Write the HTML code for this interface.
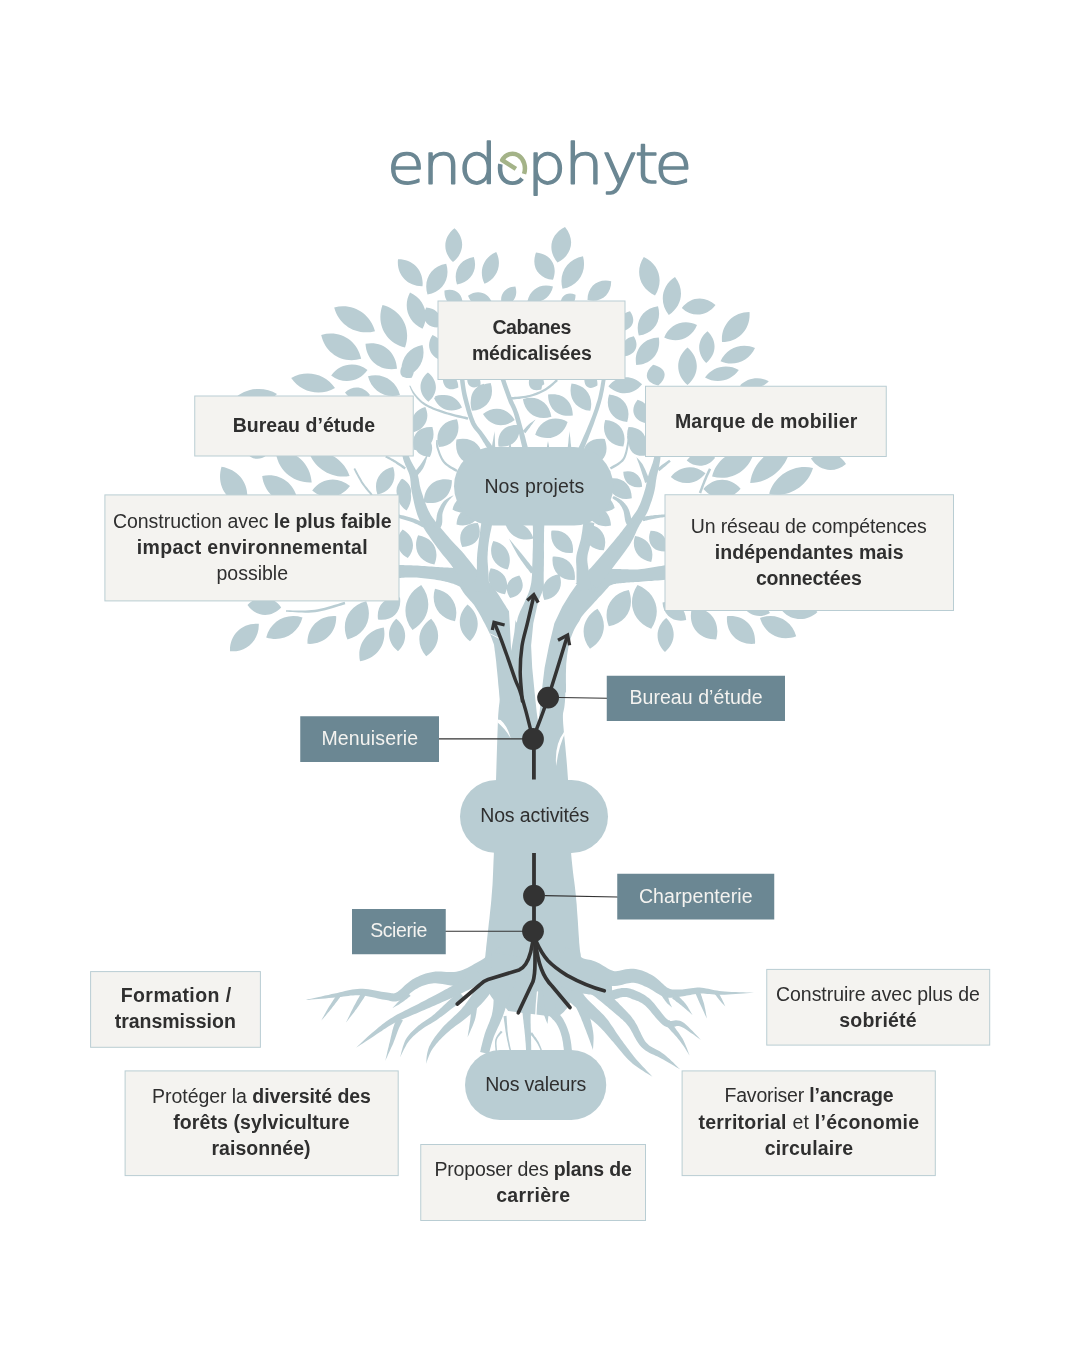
<!DOCTYPE html>
<html lang="fr"><head><meta charset="utf-8"><title>endophyte</title>
<style>html,body{margin:0;padding:0;background:#fff}svg{display:block;will-change:transform}text{font-family:"Liberation Sans",sans-serif;font-size:19.50px}</style></head><body>
<svg width="1080" height="1350" viewBox="0 0 1080 1350">
<rect width="1080" height="1350" fill="#ffffff"/>
<text transform="scale(1.105,1)" x="350.32 382.06 414.67 446.79 477.26 510.93 544.61 574.29 592.31" y="182.8" style="font-family:'DejaVu Sans Light','DejaVu Sans',sans-serif;font-weight:200;font-size:55.5px" fill="#6b8793" stroke="#6b8793" stroke-width="1.5" stroke-linejoin="round">endophyte</text>
<path d="M500.60,164.09 A12.43,14.65 0 1 1 521.73,178.17" fill="none" stroke="#fff" stroke-width="7.5"/>
<path d="M515.89,168.97 L502.18,160.18 A12.43,14.65 0 0 1 524.01,173.86" fill="none" stroke="#a4b388" stroke-width="4.5" stroke-linejoin="round"/>
<g fill="#b9cdd3">
<path d="M555.8,1017.0 L556.5,1016.8 L557.4,1016.5 L558.5,1016.0 L559.8,1015.2 L561.1,1014.2 L562.6,1013.1 L564.0,1011.7 L565.4,1010.1 L566.8,1008.4 L568.0,1006.5 L569.1,1004.7 L570.2,1002.9 L571.4,1001.2 L572.5,999.5 L573.5,997.9 L574.6,996.2 L575.5,994.6 L576.4,993.1 L577.3,991.5 L578.0,989.9 L578.6,988.2 L579.2,986.2 L579.7,984.1 L580.1,982.0 L580.4,979.8 L580.7,977.7 L580.9,975.6 L581.2,973.6 L581.3,971.7 L581.5,970.0 L581.6,968.5 L581.7,967.1 L581.7,965.8 L581.6,964.7 L581.6,963.6 L581.5,962.5 L581.3,961.4 L581.2,960.3 L581.1,959.2 L581.0,957.9 L580.9,956.6 L580.8,955.4 L580.7,954.5 L580.6,953.7 L580.4,953.1 L580.3,952.4 L580.1,951.4 L579.9,950.0 L579.7,948.1 L579.5,945.7 L579.2,942.7 L579.0,939.1 L578.7,934.9 L578.4,930.4 L578.1,925.5 L577.8,920.4 L577.4,915.2 L577.0,910.0 L576.7,904.8 L576.2,899.8 L575.8,895.0 L575.3,890.4 L574.8,886.1 L574.3,881.9 L573.7,877.8 L573.2,873.7 L572.7,869.4 L572.2,864.8 L571.7,859.9 L571.2,854.4 L570.9,848.3 L570.5,841.4 L570.2,834.0 L569.9,826.3 L569.6,818.3 L569.3,810.2 L569.0,802.1 L568.7,794.3 L568.4,786.6 L568.0,779.4 L567.5,772.4 L567.0,765.5 L566.4,758.6 L565.8,751.9 L565.2,745.5 L564.6,739.4 L564.0,733.7 L563.6,728.5 L563.2,724.0 L563.0,720.2 L562.9,717.4 L562.9,715.4 L563.0,714.0 L563.1,713.2 L563.2,712.5 L563.4,711.7 L563.7,710.3 L564.2,708.0 L564.6,705.1 L564.9,702.1 L565.1,699.4 L565.2,697.0 L565.3,694.8 L565.3,692.7 L565.4,690.8 L565.4,689.0 L565.4,687.5 L565.4,686.2 L565.5,685.3 L565.5,684.7 L499.5,685.3 L499.5,686.4 L499.6,687.7 L499.7,689.0 L499.8,690.4 L499.9,691.7 L500.0,693.1 L500.0,694.5 L500.1,695.8 L500.1,697.1 L500.1,697.9 L500.1,698.1 L500.1,698.1 L500.1,698.5 L499.9,699.7 L499.6,701.8 L499.2,704.6 L498.8,707.8 L498.5,711.4 L498.2,715.3 L498.0,719.8 L497.8,724.6 L497.6,729.9 L497.4,735.5 L497.2,741.4 L497.0,747.7 L496.8,754.1 L496.6,760.7 L496.4,767.3 L496.2,774.0 L496.0,780.6 L495.8,787.4 L495.6,794.8 L495.4,802.5 L495.1,810.5 L494.9,818.6 L494.7,826.6 L494.5,834.4 L494.2,841.9 L494.0,849.0 L493.8,855.6 L493.5,861.6 L493.3,867.0 L493.1,872.0 L492.9,876.6 L492.7,880.9 L492.5,884.9 L492.2,888.8 L491.9,892.5 L491.6,896.3 L491.3,900.2 L490.9,904.5 L490.4,909.1 L489.9,913.8 L489.4,918.7 L488.8,923.5 L488.3,928.2 L487.8,932.8 L487.3,937.0 L486.9,940.9 L486.5,944.3 L486.2,947.1 L486.0,949.3 L485.8,951.2 L485.6,952.7 L485.5,954.0 L485.4,955.1 L485.3,955.9 L485.2,956.5 L485.1,957.2 L485.0,958.1 L484.9,959.2 L484.8,960.3 L484.7,961.4 L484.5,962.5 L484.4,963.6 L484.4,964.7 L484.3,965.8 L484.3,967.1 L484.4,968.5 L484.5,970.0 L484.7,971.7 L484.8,973.6 L485.1,975.6 L485.3,977.7 L485.6,979.8 L485.9,982.0 L486.3,984.1 L486.8,986.2 L487.4,988.2 L488.0,990.1 L488.7,991.9 L489.6,993.8 L490.5,995.5 L491.5,997.1 L492.6,998.5 L493.7,999.8 L494.8,1001.0 L495.9,1002.0 L497.0,1002.9 L498.0,1003.5 L499.1,1004.0 L500.3,1004.5 L501.5,1005.1 L502.7,1005.9 L503.9,1006.6 L505.0,1007.5 L506.0,1008.3 L506.9,1009.2 L507.6,1010.2 L508.2,1011.0Z"/>
<path d="M528.0,701.3 L527.9,698.1 L527.9,693.8 L527.9,688.7 L527.9,682.9 L527.9,676.8 L527.8,670.6 L527.7,664.5 L527.5,658.7 L527.2,653.6 L526.9,649.2 L526.5,645.7 L526.0,642.6 L525.3,639.9 L524.6,637.4 L523.7,635.1 L522.8,633.1 L521.9,631.5 L521.1,630.3 L520.4,629.2 L519.7,627.9 L518.7,625.9 L517.5,623.8 L516.2,621.8 L515.0,619.8 L513.7,617.9 L512.4,616.1 L511.2,614.3 L509.9,612.6 L508.8,610.9 L507.7,609.2 L506.5,607.4 L505.4,605.6 L504.2,603.8 L503.1,601.9 L501.9,599.9 L500.6,598.0 L499.4,596.1 L498.2,594.2 L496.9,592.3 L495.6,590.5 L494.2,588.6 L492.9,586.9 L491.6,585.3 L490.3,583.7 L489.1,582.3 L487.9,581.0 L486.8,579.7 L485.8,578.6 L484.9,577.6 L484.0,576.7 L483.0,575.7 L482.0,574.7 L480.9,573.7 L479.8,572.7 L478.7,571.7 L477.7,570.8 L476.8,570.0 L475.9,569.3 L475.2,568.7 L474.6,568.2 L457.4,581.8 L457.7,582.5 L458.2,583.3 L458.7,584.3 L459.3,585.4 L459.9,586.6 L460.6,587.9 L461.4,589.3 L462.2,590.6 L463.1,592.0 L464.0,593.3 L465.1,594.7 L466.2,596.0 L467.3,597.3 L468.4,598.5 L469.5,599.7 L470.6,600.9 L471.6,602.0 L472.6,603.2 L473.5,604.3 L474.4,605.5 L475.3,606.9 L476.3,608.4 L477.2,610.0 L478.3,611.7 L479.3,613.4 L480.3,615.3 L481.3,617.1 L482.3,619.0 L483.3,620.9 L484.3,622.8 L485.4,624.7 L486.3,626.7 L487.3,628.6 L488.2,630.4 L489.1,632.2 L489.9,633.9 L490.6,635.6 L491.2,637.1 L491.8,638.6 L492.3,640.1 L493.0,641.9 L493.6,643.6 L494.0,644.7 L494.1,645.4 L494.2,645.8 L494.2,646.2 L494.3,647.0 L494.5,648.2 L494.7,650.2 L495.1,652.8 L495.5,656.3 L496.1,661.0 L496.6,666.4 L497.2,672.2 L497.8,678.3 L498.3,684.4 L498.9,690.1 L499.3,695.2 L499.7,699.5 L500.0,702.7Z"/>
<path d="M472.8,569.9 L471.9,569.8 L470.8,569.7 L469.5,569.5 L467.9,569.4 L466.1,569.2 L464.3,569.0 L462.4,568.7 L460.4,568.5 L458.5,568.3 L456.6,568.2 L454.8,568.0 L453.0,567.9 L451.3,567.8 L449.5,567.7 L447.7,567.6 L445.9,567.5 L444.0,567.4 L442.2,567.3 L440.2,567.2 L438.2,567.0 L436.1,566.9 L433.9,566.8 L431.6,566.6 L429.2,566.4 L426.8,566.2 L424.4,566.1 L422.0,565.9 L419.7,565.8 L417.4,565.6 L415.3,565.5 L413.2,565.4 L411.1,565.3 L409.0,565.3 L407.0,565.2 L405.0,565.2 L403.2,565.1 L401.5,565.1 L400.1,565.1 L398.9,565.0 L397.9,565.0 L398.1,578.0 L399.1,578.0 L400.4,577.9 L401.8,577.8 L403.4,577.7 L405.2,577.6 L407.0,577.5 L408.9,577.4 L410.9,577.4 L412.8,577.4 L414.7,577.5 L416.7,577.6 L418.8,577.8 L421.0,578.0 L423.3,578.2 L425.7,578.4 L428.0,578.7 L430.3,579.0 L432.6,579.3 L434.7,579.6 L436.8,580.0 L438.7,580.3 L440.6,580.6 L442.4,581.0 L444.1,581.3 L445.7,581.7 L447.4,582.1 L448.9,582.5 L450.5,582.9 L452.0,583.4 L453.4,583.8 L454.9,584.4 L456.4,585.0 L457.9,585.7 L459.5,586.4 L461.1,587.1 L462.5,587.9 L463.9,588.6 L465.2,589.2 L466.3,589.7 L467.2,590.1Z"/>
<path d="M481.7,576.4 L480.7,575.2 L479.4,573.5 L477.9,571.5 L476.1,569.2 L474.2,566.7 L472.3,564.2 L470.3,561.7 L468.3,559.2 L466.4,556.9 L464.7,554.8 L463.0,552.8 L461.5,551.1 L460.0,549.5 L458.6,548.0 L457.2,546.6 L455.9,545.2 L454.5,543.8 L453.1,542.3 L451.7,540.7 L450.1,538.9 L448.3,536.8 L446.3,534.5 L444.2,532.1 L442.1,529.6 L439.9,527.1 L437.8,524.6 L435.8,522.0 L434.0,519.6 L432.3,517.2 L430.8,514.9 L429.5,512.6 L428.3,510.2 L427.2,507.8 L426.2,505.2 L425.2,502.7 L424.3,500.2 L423.4,497.7 L422.7,495.2 L421.9,492.9 L421.2,490.7 L420.6,488.8 L420.2,487.1 L419.8,485.5 L419.5,483.9 L419.3,482.3 L419.0,480.7 L418.8,479.1 L418.4,477.4 L418.0,475.6 L417.4,473.8 L416.7,472.0 L416.0,470.3 L415.1,468.6 L414.3,467.0 L413.4,465.4 L412.6,463.9 L411.8,462.4 L411.0,461.0 L410.3,459.6 L409.8,458.3 L409.2,456.9 L408.7,455.4 L408.2,453.8 L407.7,452.1 L407.3,450.5 L406.9,449.0 L406.5,447.6 L406.2,446.3 L405.9,445.2 L405.7,444.4 L400.3,445.6 L400.5,446.5 L400.7,447.6 L401.0,448.8 L401.2,450.3 L401.5,451.9 L401.9,453.6 L402.3,455.3 L402.7,457.1 L403.1,458.8 L403.6,460.5 L404.2,462.2 L404.9,463.8 L405.5,465.5 L406.3,467.1 L407.0,468.7 L407.6,470.2 L408.3,471.8 L408.9,473.3 L409.4,474.7 L409.8,476.2 L410.1,477.5 L410.3,478.9 L410.4,480.3 L410.6,481.8 L410.7,483.3 L410.8,485.0 L411.0,486.8 L411.2,488.7 L411.6,490.9 L412.0,493.1 L412.5,495.4 L413.0,497.8 L413.5,500.3 L414.1,503.1 L414.8,505.9 L415.5,508.8 L416.4,511.7 L417.3,514.7 L418.5,517.7 L419.8,520.7 L421.3,523.7 L423.0,526.7 L424.8,529.7 L426.7,532.7 L428.7,535.6 L430.7,538.4 L432.6,541.2 L434.5,543.8 L436.3,546.2 L437.9,548.5 L439.5,550.6 L441.0,552.6 L442.5,554.4 L443.8,556.1 L445.1,557.6 L446.4,559.1 L447.6,560.5 L448.8,562.0 L450.0,563.5 L451.3,565.2 L452.7,567.3 L454.3,569.6 L456.0,572.1 L457.8,574.7 L459.5,577.3 L461.2,579.8 L462.8,582.2 L464.2,584.3 L465.4,586.2 L466.3,587.6Z"/>
<path d="M489.5,592.2 L489.4,590.8 L489.3,589.1 L489.2,586.9 L489.1,584.5 L488.9,582.0 L488.8,579.4 L488.6,576.8 L488.5,574.3 L488.4,572.0 L488.2,570.0 L488.1,568.3 L488.0,566.7 L487.9,565.3 L487.8,564.0 L487.7,562.8 L487.6,561.7 L487.6,560.6 L487.5,559.4 L487.5,558.3 L487.5,557.0 L487.6,555.5 L487.7,554.0 L487.7,552.4 L487.9,550.8 L488.0,549.2 L488.1,547.5 L488.3,545.8 L488.5,544.1 L488.7,542.4 L489.0,540.7 L489.2,538.9 L489.6,537.0 L489.9,535.0 L490.3,532.9 L490.8,530.8 L491.2,528.9 L491.6,527.1 L491.9,525.4 L492.2,524.0 L492.4,522.9 L481.6,521.1 L481.4,522.1 L481.2,523.5 L481.0,525.2 L480.7,527.1 L480.4,529.1 L480.2,531.2 L479.9,533.3 L479.6,535.4 L479.3,537.4 L479.0,539.3 L478.8,541.1 L478.6,542.9 L478.4,544.6 L478.1,546.4 L477.9,548.1 L477.7,549.8 L477.5,551.5 L477.3,553.2 L477.2,554.8 L477.1,556.4 L477.0,558.0 L476.9,559.4 L476.9,560.8 L476.9,562.0 L476.9,563.3 L476.9,564.5 L476.9,565.7 L476.9,567.0 L476.9,568.4 L476.8,570.0 L476.6,571.9 L476.4,574.1 L476.1,576.5 L475.9,579.1 L475.6,581.7 L475.3,584.2 L475.1,586.6 L474.8,588.7 L474.6,590.5 L474.5,591.8Z"/>
<path d="M550.0,691.6 L549.8,689.0 L549.6,685.6 L549.3,681.6 L548.9,677.0 L548.6,672.2 L548.2,667.2 L547.9,662.3 L547.5,657.6 L547.2,653.3 L547.0,649.5 L546.8,646.1 L546.5,642.9 L546.3,640.0 L546.1,637.4 L545.9,635.1 L545.8,633.0 L545.7,631.1 L545.6,629.3 L545.5,627.7 L545.5,626.2 L545.4,624.7 L545.4,623.3 L545.5,621.8 L545.7,620.1 L545.9,618.3 L546.1,616.3 L546.3,614.2 L546.6,611.9 L546.8,609.4 L546.8,606.9 L546.7,604.6 L546.5,602.4 L546.2,600.3 L545.9,598.2 L545.5,596.1 L545.1,594.0 L544.7,591.9 L544.4,589.8 L544.1,587.6 L543.9,585.4 L543.8,583.0 L543.7,580.6 L543.7,578.1 L543.7,575.5 L543.7,573.0 L543.8,570.4 L543.8,567.8 L543.9,565.2 L543.9,562.6 L543.9,560.1 L544.0,557.6 L544.0,554.9 L544.0,552.3 L543.9,549.6 L543.9,546.9 L543.9,544.3 L544.0,541.8 L544.0,539.4 L544.0,537.1 L544.0,535.0 L544.0,533.1 L544.1,531.1 L544.1,529.3 L544.2,527.6 L544.3,525.9 L544.3,524.4 L544.4,523.1 L544.4,521.9 L544.5,520.8 L544.5,520.0 L532.5,520.0 L532.5,520.9 L532.6,521.9 L532.6,523.1 L532.7,524.5 L532.8,526.0 L532.9,527.6 L532.9,529.3 L533.0,531.1 L533.0,533.0 L533.0,535.0 L533.0,537.1 L533.0,539.3 L532.9,541.7 L532.9,544.2 L532.9,546.8 L532.8,549.5 L532.7,552.1 L532.6,554.7 L532.6,557.3 L532.5,559.9 L532.4,562.4 L532.3,565.0 L532.2,567.5 L532.2,570.1 L532.1,572.6 L532.0,575.2 L531.8,577.6 L531.6,580.1 L531.3,582.4 L530.9,584.6 L530.4,586.8 L529.9,588.8 L529.3,590.8 L528.6,592.7 L527.9,594.5 L527.1,596.3 L526.3,598.0 L525.6,599.7 L524.9,601.4 L524.2,603.1 L523.5,604.5 L522.8,606.0 L522.0,607.5 L521.2,609.2 L520.3,611.1 L519.4,613.2 L518.5,615.5 L517.7,618.1 L517.1,620.9 L516.5,623.8 L516.2,626.7 L516.1,629.5 L516.1,632.1 L516.2,634.7 L516.4,637.2 L516.6,639.6 L516.7,642.1 L516.9,644.7 L517.0,647.5 L517.0,650.5 L517.0,654.1 L516.9,658.4 L516.8,663.0 L516.7,668.0 L516.5,672.9 L516.4,677.8 L516.3,682.3 L516.2,686.4 L516.1,689.8 L516.0,692.4Z"/>
<path d="M566.0,692.4 L566.0,690.4 L566.0,687.8 L566.0,684.9 L565.9,681.6 L565.9,678.1 L565.9,674.4 L566.0,670.8 L566.1,667.3 L566.2,664.1 L566.5,661.1 L566.8,658.3 L567.1,655.4 L567.5,652.7 L568.0,650.0 L568.4,647.4 L569.0,644.9 L569.5,642.5 L570.1,640.2 L570.8,638.1 L571.5,636.0 L572.3,633.9 L573.2,631.8 L574.1,629.8 L575.0,628.0 L576.0,626.3 L576.9,624.8 L577.7,623.5 L578.5,622.3 L579.2,621.2 L579.7,620.3 L580.1,619.6 L580.4,618.8 L581.1,617.6 L582.0,616.2 L583.2,614.7 L584.6,613.0 L586.2,611.2 L588.0,609.3 L589.9,607.3 L591.8,605.3 L593.4,603.5 L594.9,601.8 L596.4,600.2 L597.9,598.6 L599.2,597.1 L600.6,595.7 L601.8,594.4 L602.9,593.2 L604.0,592.1 L604.9,591.0 L605.7,590.1 L606.6,589.1 L607.4,588.2 L608.2,587.3 L608.9,586.4 L609.6,585.6 L610.3,584.8 L611.0,584.1 L611.6,583.5 L612.0,583.0 L600.0,567.0 L599.4,567.3 L598.8,567.6 L597.9,568.0 L596.9,568.4 L595.8,569.0 L594.6,569.6 L593.3,570.3 L592.0,571.1 L590.6,572.0 L589.1,573.0 L587.7,574.0 L586.2,575.2 L584.8,576.4 L583.3,577.7 L581.8,578.9 L580.4,580.2 L578.8,581.4 L577.3,582.6 L575.7,583.8 L574.2,584.7 L572.8,585.5 L571.1,586.1 L569.2,586.9 L566.9,587.7 L564.5,588.8 L561.9,590.0 L559.1,591.6 L556.3,593.5 L553.4,596.0 L550.9,598.9 L548.8,601.8 L547.1,604.7 L545.7,607.6 L544.6,610.6 L543.6,613.6 L542.8,616.5 L542.2,619.4 L541.6,622.3 L541.1,625.1 L540.5,628.0 L540.0,631.0 L539.5,634.1 L539.1,637.2 L538.8,640.3 L538.5,643.4 L538.3,646.5 L538.1,649.6 L537.9,652.7 L537.7,655.7 L537.5,658.9 L537.3,662.3 L537.1,666.0 L536.9,669.8 L536.8,673.7 L536.6,677.4 L536.4,681.1 L536.3,684.4 L536.2,687.3 L536.1,689.8 L536.0,691.6Z"/>
<path d="M594.9,592.1 L596.0,591.6 L597.5,591.0 L599.1,590.2 L600.8,589.4 L602.7,588.5 L604.6,587.6 L606.5,586.8 L608.4,586.0 L610.0,585.4 L611.5,584.9 L612.7,584.5 L614.0,584.1 L615.3,583.9 L616.6,583.6 L618.0,583.5 L619.3,583.3 L620.8,583.2 L622.2,583.0 L623.8,582.9 L625.3,582.7 L626.7,582.6 L627.9,582.5 L629.2,582.4 L630.5,582.3 L631.9,582.2 L633.3,582.2 L634.9,582.1 L636.6,582.0 L638.5,581.9 L640.5,581.7 L642.9,581.6 L645.6,581.3 L648.5,581.1 L651.6,580.9 L654.7,580.6 L657.8,580.4 L660.6,580.2 L663.2,580.0 L665.3,579.8 L666.9,579.7 L665.1,565.3 L663.5,565.6 L661.4,565.9 L658.9,566.3 L656.1,566.8 L653.1,567.3 L650.1,567.8 L647.1,568.3 L644.2,568.7 L641.6,569.0 L639.5,569.3 L637.6,569.4 L636.0,569.5 L634.5,569.6 L633.1,569.6 L631.7,569.5 L630.4,569.5 L629.1,569.4 L627.7,569.3 L626.2,569.3 L624.7,569.3 L623.3,569.2 L621.9,569.2 L620.4,569.1 L618.9,569.0 L617.4,569.0 L615.8,568.9 L614.1,568.9 L612.3,568.9 L610.5,569.0 L608.5,569.1 L606.5,569.3 L604.2,569.6 L602.0,569.9 L599.7,570.3 L597.4,570.6 L595.3,571.0 L593.3,571.3 L591.5,571.6 L590.1,571.8 L589.1,571.9Z"/>
<path d="M597.1,588.3 L597.7,587.6 L598.2,586.8 L599.0,585.9 L599.8,584.8 L600.7,583.6 L601.8,582.2 L603.0,580.7 L604.3,578.9 L605.7,577.0 L607.3,575.0 L609.0,572.6 L611.1,570.0 L613.3,567.0 L615.7,563.8 L618.2,560.6 L620.7,557.3 L623.1,554.0 L625.3,550.9 L627.4,548.0 L629.2,545.4 L630.7,543.0 L631.9,540.8 L633.1,538.7 L634.0,536.8 L634.8,535.0 L635.6,533.3 L636.2,531.7 L636.9,530.2 L637.6,528.7 L638.4,527.2 L639.2,525.8 L640.0,524.3 L640.9,522.9 L641.8,521.5 L642.8,520.1 L643.7,518.7 L644.6,517.2 L645.5,515.6 L646.4,513.9 L647.3,512.2 L648.1,510.4 L648.9,508.5 L649.6,506.6 L650.3,504.6 L651.0,502.6 L651.7,500.7 L652.3,498.7 L652.9,496.8 L653.4,495.0 L653.9,493.2 L654.3,491.4 L654.7,489.7 L655.0,488.0 L655.3,486.4 L655.5,484.8 L655.7,483.3 L655.9,481.8 L656.1,480.3 L656.4,478.8 L656.6,477.3 L656.9,475.7 L657.3,474.1 L657.7,472.4 L658.1,470.6 L658.5,468.8 L658.9,467.0 L659.3,465.2 L659.6,463.5 L659.9,461.7 L660.2,460.0 L660.4,458.2 L660.5,456.4 L660.6,454.7 L660.7,452.9 L660.7,451.3 L660.7,449.7 L660.7,448.3 L660.7,447.0 L660.7,446.0 L660.7,445.1 L655.3,444.9 L655.2,445.7 L655.1,446.8 L655.0,448.1 L655.0,449.5 L654.8,451.0 L654.7,452.6 L654.6,454.2 L654.3,455.8 L654.1,457.4 L653.8,458.8 L653.4,460.3 L653.0,461.8 L652.5,463.4 L651.9,465.0 L651.3,466.7 L650.7,468.4 L650.1,470.1 L649.4,471.9 L648.9,473.6 L648.4,475.3 L647.9,477.0 L647.5,478.6 L647.2,480.2 L646.9,481.7 L646.5,483.2 L646.2,484.7 L645.9,486.2 L645.6,487.6 L645.2,489.1 L644.7,490.6 L644.2,492.3 L643.7,494.0 L643.1,495.8 L642.5,497.6 L641.8,499.4 L641.2,501.2 L640.5,503.0 L639.8,504.7 L639.0,506.3 L638.3,507.8 L637.6,509.2 L636.8,510.5 L636.0,511.8 L635.1,513.1 L634.2,514.3 L633.3,515.6 L632.3,517.0 L631.3,518.3 L630.2,519.8 L629.0,521.4 L627.9,522.9 L626.9,524.4 L625.9,525.9 L624.9,527.3 L623.9,528.6 L622.8,530.1 L621.7,531.5 L620.4,533.1 L619.0,534.9 L617.4,536.8 L615.6,539.1 L613.4,541.7 L611.0,544.6 L608.5,547.6 L605.8,550.7 L603.2,553.8 L600.6,556.7 L598.2,559.5 L596.0,562.1 L594.1,564.2 L592.5,566.1 L591.0,567.7 L589.6,569.1 L588.3,570.4 L587.1,571.6 L586.1,572.6 L585.1,573.5 L584.3,574.3 L583.5,575.1 L582.9,575.7Z"/>
<path d="M591.5,589.4 L591.3,588.2 L591.0,586.6 L590.7,584.7 L590.4,582.6 L590.0,580.3 L589.7,578.0 L589.3,575.7 L589.0,573.4 L588.7,571.4 L588.5,569.6 L588.3,567.9 L588.1,566.4 L587.8,565.0 L587.7,563.8 L587.5,562.7 L587.4,561.6 L587.3,560.6 L587.3,559.6 L587.3,558.5 L587.4,557.4 L587.5,556.1 L587.7,554.8 L588.0,553.3 L588.4,551.7 L588.9,550.1 L589.3,548.4 L589.8,546.6 L590.3,544.8 L590.7,543.0 L591.1,541.1 L591.5,539.1 L591.9,537.1 L592.3,535.0 L592.7,532.9 L593.0,530.8 L593.4,528.8 L593.7,526.9 L594.0,525.3 L594.2,523.9 L594.4,522.9 L583.6,521.1 L583.4,522.2 L583.2,523.6 L583.0,525.3 L582.7,527.1 L582.5,529.1 L582.2,531.2 L581.9,533.2 L581.5,535.3 L581.2,537.2 L580.9,538.9 L580.5,540.5 L580.1,542.1 L579.6,543.8 L579.1,545.5 L578.6,547.2 L578.1,548.9 L577.6,550.7 L577.1,552.4 L576.7,554.2 L576.4,556.0 L576.2,557.7 L576.1,559.3 L576.1,560.9 L576.1,562.3 L576.2,563.6 L576.3,564.9 L576.4,566.2 L576.4,567.5 L576.5,568.9 L576.5,570.4 L576.5,572.2 L576.5,574.3 L576.5,576.6 L576.5,579.0 L576.5,581.4 L576.5,583.7 L576.5,585.8 L576.5,587.7 L576.5,589.4 L576.5,590.6Z"/>
<path d="M633.7,521.8 L633.5,521.5 L633.1,521.2 L632.9,520.9 L632.7,520.8 L632.5,520.6 L632.3,520.5 L632.1,520.3 L632.0,520.0 L631.8,519.7 L631.6,519.3 L631.4,518.8 L631.1,518.0 L630.9,517.1 L630.7,516.0 L630.4,514.9 L630.1,513.7 L629.8,512.5 L629.4,511.3 L629.0,510.1 L628.5,509.0 L628.0,507.9 L627.5,507.0 L626.9,506.1 L626.3,505.3 L625.6,504.4 L625.0,503.6 L624.3,502.9 L623.6,502.1 L622.9,501.4 L622.1,500.8 L621.2,500.1 L620.3,499.4 L619.3,498.8 L618.3,498.3 L617.4,497.7 L616.4,497.3 L615.6,496.8 L614.8,496.5 L614.2,496.2 L613.7,495.9 L612.3,498.1 L612.8,498.4 L613.4,498.9 L614.1,499.4 L614.9,499.9 L615.7,500.5 L616.5,501.1 L617.3,501.7 L618.1,502.4 L618.7,503.0 L619.3,503.6 L619.8,504.3 L620.3,505.0 L620.8,505.7 L621.3,506.4 L621.7,507.1 L622.1,507.9 L622.5,508.7 L622.8,509.4 L623.2,510.3 L623.5,511.0 L623.7,511.9 L623.9,512.8 L624.1,513.8 L624.3,514.9 L624.4,516.0 L624.6,517.2 L624.8,518.3 L624.9,519.4 L625.2,520.5 L625.4,521.5 L625.8,522.4 L626.1,523.2 L626.5,523.9 L626.9,524.6 L627.3,525.1 L627.7,525.5 L628.0,525.9 L628.2,526.1 L628.3,526.1 L628.3,526.2Z"/>
<path d="M643.2,521.2 L643.9,521.1 L644.7,520.9 L645.7,520.6 L646.8,520.4 L648.0,520.1 L649.3,519.8 L650.6,519.5 L651.8,519.2 L653.1,519.0 L654.3,518.7 L655.5,518.5 L656.8,518.3 L658.1,518.0 L659.5,517.8 L660.9,517.6 L662.2,517.4 L663.4,517.2 L664.5,517.0 L665.4,516.9 L666.2,516.7 L665.8,514.3 L665.1,514.3 L664.2,514.4 L663.1,514.5 L661.9,514.6 L660.5,514.7 L659.1,514.8 L657.7,514.9 L656.3,515.0 L655.0,515.1 L653.7,515.3 L652.5,515.4 L651.2,515.6 L649.9,515.7 L648.6,515.9 L647.3,516.1 L646.1,516.3 L644.9,516.4 L643.9,516.6 L643.1,516.7 L642.4,516.8Z"/>
<path d="M649.8,481.1 L649.5,480.2 L648.9,478.9 L648.3,477.4 L647.7,475.6 L646.9,473.8 L646.2,471.9 L645.4,470.1 L644.6,468.3 L643.8,466.7 L643.1,465.3 L642.4,464.1 L641.6,462.9 L640.8,461.9 L640.0,460.9 L639.2,460.0 L638.5,459.2 L637.8,458.5 L637.2,457.9 L636.7,457.4 L636.3,456.9 L636.3,456.9 L636.5,457.5 L636.8,458.2 L637.1,459.0 L637.4,459.9 L637.8,460.9 L638.2,462.0 L638.6,463.1 L639.1,464.3 L639.5,465.5 L639.9,466.7 L640.4,468.1 L640.9,469.7 L641.5,471.5 L642.1,473.4 L642.7,475.3 L643.3,477.2 L643.9,479.0 L644.4,480.5 L644.8,481.9 L645.2,482.9Z"/>
<path d="M659.4,471.2 L660.1,470.6 L661.1,469.7 L662.3,468.7 L663.7,467.6 L665.1,466.4 L666.5,465.3 L667.8,464.1 L669.0,463.1 L670.0,462.3 L670.8,461.7 L669.2,459.7 L668.5,460.3 L667.4,461.0 L666.1,462.0 L664.7,463.0 L663.2,464.1 L661.7,465.1 L660.3,466.2 L659.1,467.1 L658.0,467.9 L657.2,468.4Z"/>
<path d="M425.5,523.6 L424.9,523.3 L424.0,522.9 L423.0,522.4 L421.9,521.9 L420.6,521.3 L419.3,520.8 L417.9,520.2 L416.5,519.6 L415.1,519.0 L413.7,518.5 L412.2,518.0 L410.6,517.5 L408.8,517.0 L407.0,516.6 L405.3,516.1 L403.6,515.6 L402.0,515.2 L400.6,514.9 L399.4,514.6 L398.5,514.3 L397.5,517.7 L398.4,518.0 L399.6,518.3 L401.0,518.7 L402.6,519.2 L404.3,519.7 L406.0,520.2 L407.7,520.7 L409.4,521.3 L410.9,521.8 L412.3,522.3 L413.6,522.8 L414.9,523.4 L416.3,524.0 L417.6,524.6 L418.8,525.2 L420.0,525.8 L421.1,526.4 L422.1,526.9 L423.0,527.3 L423.7,527.6Z"/>
<path d="M438.9,529.9 L439.0,529.7 L439.2,529.5 L439.4,529.2 L439.8,528.7 L440.2,528.1 L440.6,527.4 L441.0,526.7 L441.4,525.8 L441.8,524.9 L442.0,523.8 L442.2,522.7 L442.3,521.6 L442.3,520.5 L442.3,519.4 L442.3,518.3 L442.3,517.2 L442.3,516.2 L442.3,515.2 L442.4,514.2 L442.6,513.3 L442.8,512.3 L443.2,511.3 L443.5,510.3 L443.9,509.2 L444.3,508.2 L444.8,507.1 L445.3,506.1 L445.8,505.1 L446.3,504.2 L446.8,503.3 L447.3,502.4 L448.0,501.5 L448.8,500.5 L449.6,499.6 L450.4,498.7 L451.3,497.8 L452.0,496.9 L452.8,496.2 L453.4,495.6 L453.8,495.1 L453.8,495.1 L453.2,495.4 L452.5,495.8 L451.5,496.3 L450.5,496.8 L449.4,497.3 L448.3,498.0 L447.1,498.7 L446.0,499.4 L445.0,500.2 L444.0,501.1 L443.2,502.0 L442.4,503.0 L441.7,504.1 L441.0,505.1 L440.4,506.2 L439.8,507.4 L439.2,508.5 L438.7,509.6 L438.3,510.7 L437.8,511.9 L437.4,513.1 L437.1,514.4 L436.8,515.6 L436.7,516.8 L436.5,518.0 L436.4,519.1 L436.2,520.1 L436.1,520.9 L435.9,521.6 L435.8,522.2 L435.6,522.6 L435.3,523.0 L435.1,523.4 L434.8,523.8 L434.6,524.2 L434.3,524.6 L434.0,524.9 L433.7,525.3 L433.3,525.7 L433.1,526.1Z"/>
<path d="M415.7,477.4 L416.2,476.9 L416.8,476.2 L417.5,475.3 L418.4,474.4 L419.3,473.3 L420.3,472.2 L421.2,471.0 L422.1,469.7 L423.0,468.4 L423.7,467.0 L424.4,465.6 L425.0,464.0 L425.6,462.4 L426.1,460.6 L426.6,458.9 L427.1,457.3 L427.5,455.7 L427.9,454.3 L428.2,453.2 L428.5,452.3 L428.5,452.3 L428.0,453.1 L427.4,454.1 L426.6,455.3 L425.8,456.7 L424.9,458.1 L423.9,459.6 L422.9,461.1 L422.0,462.5 L421.1,463.8 L420.3,465.0 L419.5,466.0 L418.6,467.1 L417.7,468.2 L416.8,469.3 L415.9,470.4 L415.0,471.4 L414.2,472.4 L413.4,473.2 L412.8,474.0 L412.3,474.6Z"/>
<path d="M457.7,469.9 L456.8,469.4 L455.7,468.8 L454.5,468.1 L453.0,467.3 L451.5,466.4 L450.0,465.4 L448.5,464.4 L447.1,463.4 L445.9,462.3 L444.8,461.3 L444.0,460.1 L443.1,458.8 L442.4,457.4 L441.7,456.0 L441.0,454.4 L440.4,452.9 L439.9,451.4 L439.4,450.0 L438.9,448.7 L438.6,447.5 L438.3,446.5 L438.0,445.5 L437.9,444.7 L437.8,443.8 L437.8,443.0 L437.8,442.3 L437.8,441.6 L437.8,441.0 L437.8,440.4 L437.7,440.0 L436.3,440.0 L436.2,440.4 L436.2,440.9 L436.1,441.5 L436.1,442.2 L436.0,443.0 L436.0,443.9 L436.1,444.8 L436.2,445.9 L436.3,447.0 L436.6,448.1 L437.0,449.3 L437.4,450.6 L437.9,452.1 L438.4,453.6 L439.0,455.2 L439.7,456.8 L440.5,458.4 L441.3,459.9 L442.2,461.4 L443.2,462.7 L444.3,464.0 L445.7,465.2 L447.2,466.3 L448.7,467.4 L450.3,468.4 L451.8,469.3 L453.2,470.2 L454.5,470.9 L455.6,471.5 L456.3,472.1Z"/>
<path d="M611.1,469.6 L611.8,469.1 L612.9,468.4 L614.2,467.7 L615.6,466.9 L617.2,465.9 L618.8,464.9 L620.3,463.8 L621.8,462.6 L623.1,461.4 L624.2,460.0 L625.1,458.6 L625.8,457.0 L626.4,455.3 L627.0,453.6 L627.4,451.8 L627.8,450.1 L628.1,448.4 L628.4,446.8 L628.7,445.4 L628.9,444.1 L629.1,442.9 L629.2,441.8 L629.2,440.8 L629.2,439.8 L629.1,438.9 L629.0,438.2 L628.9,437.5 L628.8,436.9 L628.8,436.4 L628.7,436.0 L627.3,436.0 L627.3,436.5 L627.3,437.0 L627.3,437.6 L627.3,438.3 L627.4,439.0 L627.4,439.8 L627.3,440.7 L627.3,441.6 L627.1,442.6 L626.9,443.7 L626.7,445.0 L626.4,446.4 L626.1,448.0 L625.8,449.6 L625.4,451.3 L624.9,453.0 L624.4,454.6 L623.8,456.2 L623.2,457.6 L622.4,458.8 L621.5,459.8 L620.3,460.9 L619.0,462.0 L617.5,463.0 L615.9,463.9 L614.4,464.8 L613.0,465.6 L611.7,466.3 L610.6,466.9 L609.7,467.4Z"/>
<path d="M535.0,570.5 L534.2,569.5 L533.1,568.2 L531.9,566.6 L530.5,564.9 L529.1,563.1 L527.5,561.2 L526.0,559.2 L524.4,557.3 L523.0,555.5 L521.6,553.8 L520.3,552.2 L518.9,550.5 L517.4,548.7 L515.9,546.9 L514.4,545.2 L513.1,543.5 L511.8,541.9 L510.6,540.6 L509.7,539.4 L508.9,538.5 L508.9,538.5 L509.4,539.5 L510.1,540.9 L510.9,542.5 L511.8,544.3 L512.8,546.2 L513.9,548.2 L515.0,550.3 L516.1,552.3 L517.2,554.3 L518.4,556.2 L519.6,558.0 L520.9,560.0 L522.4,562.0 L523.8,564.0 L525.3,566.0 L526.7,567.9 L528.1,569.6 L529.3,571.2 L530.3,572.5 L531.0,573.5Z"/>
<path d="M493.3,447.5 L492.7,446.6 L491.8,445.4 L490.9,444.1 L489.8,442.5 L488.6,440.9 L487.4,439.2 L486.2,437.4 L485.0,435.8 L483.9,434.2 L482.8,432.7 L481.9,431.4 L480.9,430.2 L480.0,429.2 L479.2,428.2 L478.4,427.2 L477.6,426.3 L476.9,425.2 L476.2,424.0 L475.4,422.7 L474.7,421.0 L473.9,419.0 L473.0,416.7 L472.2,414.2 L471.3,411.5 L470.5,408.7 L469.7,405.8 L468.9,403.0 L468.2,400.3 L467.6,397.8 L467.0,395.5 L466.5,393.3 L466.1,391.2 L465.7,389.1 L465.4,387.0 L465.1,385.1 L464.9,383.3 L464.7,381.6 L464.5,380.1 L464.4,378.7 L464.2,377.7 L459.8,378.3 L459.9,379.3 L460.1,380.6 L460.2,382.1 L460.4,383.8 L460.7,385.7 L461.0,387.7 L461.3,389.8 L461.7,392.0 L462.1,394.3 L462.6,396.5 L463.2,398.9 L463.9,401.5 L464.6,404.2 L465.4,407.1 L466.2,409.9 L467.0,412.8 L467.9,415.6 L468.8,418.2 L469.7,420.6 L470.5,422.8 L471.4,424.7 L472.3,426.3 L473.2,427.7 L474.1,428.9 L474.9,430.0 L475.8,431.1 L476.7,432.0 L477.5,433.0 L478.3,434.1 L479.2,435.3 L480.1,436.7 L481.1,438.3 L482.2,440.1 L483.3,441.9 L484.4,443.6 L485.5,445.4 L486.5,447.0 L487.4,448.4 L488.1,449.6 L488.7,450.5Z"/>
<path d="M468.3,417.4 L466.9,417.1 L465.2,416.6 L463.1,416.2 L460.7,415.6 L458.2,415.0 L455.6,414.4 L453.0,413.7 L450.4,413.0 L448.0,412.4 L445.7,411.7 L443.6,411.0 L441.5,410.3 L439.4,409.6 L437.4,408.9 L435.4,408.2 L433.4,407.4 L431.5,406.6 L429.7,405.8 L428.1,405.0 L426.5,404.1 L425.1,403.3 L423.8,402.3 L422.5,401.4 L421.4,400.4 L420.3,399.4 L419.3,398.4 L418.3,397.4 L417.4,396.4 L416.5,395.4 L415.7,394.4 L414.9,393.5 L414.2,392.5 L413.5,391.4 L412.9,390.4 L412.3,389.4 L411.7,388.4 L411.3,387.5 L410.8,386.6 L410.5,385.9 L410.1,385.4 L409.3,385.8 L409.5,386.4 L409.8,387.1 L410.2,388.0 L410.6,388.9 L411.0,390.0 L411.6,391.1 L412.1,392.2 L412.8,393.4 L413.5,394.5 L414.3,395.6 L415.1,396.6 L416.0,397.6 L416.9,398.7 L417.9,399.7 L418.9,400.8 L420.1,401.9 L421.3,402.9 L422.6,403.9 L424.0,404.9 L425.5,405.9 L427.1,406.8 L428.8,407.7 L430.7,408.5 L432.6,409.4 L434.6,410.2 L436.6,411.0 L438.7,411.7 L440.8,412.5 L442.9,413.2 L445.1,413.9 L447.3,414.6 L449.8,415.3 L452.4,416.0 L455.0,416.7 L457.6,417.4 L460.2,418.0 L462.5,418.5 L464.6,419.0 L466.3,419.5 L467.7,419.8Z"/>
<path d="M528.4,449.3 L527.8,447.2 L527.0,444.3 L526.1,440.9 L525.1,437.1 L524.0,433.1 L522.9,428.9 L521.8,424.9 L520.7,421.0 L519.7,417.6 L518.9,414.7 L518.1,412.4 L517.3,410.4 L516.7,408.7 L516.0,407.2 L515.4,405.8 L514.8,404.6 L514.2,403.4 L513.6,402.1 L513.0,400.7 L512.3,399.0 L511.5,397.0 L510.7,394.7 L509.8,392.3 L508.9,389.7 L508.0,387.2 L507.1,384.7 L506.3,382.4 L505.6,380.3 L505.0,378.6 L504.5,377.2 L500.3,378.8 L500.7,380.1 L501.4,381.8 L502.1,383.9 L502.9,386.2 L503.8,388.7 L504.7,391.2 L505.6,393.8 L506.5,396.3 L507.3,398.6 L508.1,400.6 L508.8,402.4 L509.5,403.9 L510.2,405.3 L510.8,406.6 L511.4,407.8 L512.0,409.0 L512.6,410.4 L513.2,411.9 L513.8,413.8 L514.5,416.1 L515.3,418.9 L516.2,422.3 L517.2,426.1 L518.2,430.1 L519.2,434.3 L520.1,438.4 L521.0,442.2 L521.8,445.6 L522.5,448.5 L523.0,450.7Z"/>
<path d="M525.4,433.3 L525.7,432.9 L526.1,432.3 L526.7,431.6 L527.2,430.8 L527.9,429.9 L528.5,429.1 L529.2,428.2 L529.8,427.4 L530.4,426.6 L530.9,425.8 L531.4,425.1 L532.0,424.4 L532.5,423.7 L533.0,422.9 L533.5,422.2 L534.0,421.5 L534.5,420.9 L534.9,420.4 L535.2,419.9 L535.5,419.5 L535.5,419.5 L535.1,419.8 L534.6,420.1 L534.1,420.5 L533.4,420.9 L532.7,421.4 L532.0,421.9 L531.2,422.4 L530.5,423.0 L529.8,423.6 L529.1,424.2 L528.4,424.8 L527.7,425.5 L526.9,426.3 L526.2,427.1 L525.4,427.9 L524.7,428.7 L524.1,429.5 L523.5,430.1 L523.0,430.7 L522.6,431.1Z"/>
<path d="M510.9,399.7 L512.1,399.6 L513.5,399.5 L515.3,399.3 L517.2,399.1 L519.3,398.9 L521.5,398.6 L523.7,398.3 L525.9,398.0 L528.0,397.6 L529.9,397.1 L531.7,396.6 L533.4,396.1 L535.1,395.5 L536.8,394.9 L538.5,394.2 L540.1,393.5 L541.7,392.7 L543.2,392.0 L544.7,391.2 L546.2,390.4 L547.6,389.5 L549.1,388.5 L550.5,387.4 L551.9,386.3 L553.2,385.2 L554.4,384.1 L555.5,383.1 L556.5,382.2 L557.3,381.4 L557.9,380.9 L556.5,379.1 L555.8,379.7 L554.9,380.5 L553.9,381.4 L552.8,382.4 L551.6,383.4 L550.4,384.5 L549.1,385.6 L547.7,386.6 L546.4,387.6 L545.0,388.4 L543.6,389.2 L542.2,389.9 L540.7,390.7 L539.2,391.4 L537.6,392.1 L536.0,392.7 L534.4,393.3 L532.7,393.9 L531.0,394.4 L529.3,394.9 L527.5,395.3 L525.5,395.7 L523.4,396.0 L521.2,396.2 L519.1,396.5 L517.0,396.7 L515.0,396.8 L513.3,397.0 L511.8,397.1 L510.7,397.3Z"/>
<path d="M583.1,451.1 L583.8,449.4 L584.7,447.1 L585.7,444.5 L586.9,441.5 L588.2,438.4 L589.5,435.1 L590.8,431.7 L592.0,428.5 L593.2,425.4 L594.2,422.7 L595.1,420.1 L596.0,417.6 L596.9,415.1 L597.7,412.7 L598.5,410.4 L599.3,408.1 L600.0,405.8 L600.7,403.5 L601.3,401.2 L601.9,399.0 L602.5,396.7 L603.0,394.3 L603.5,391.9 L604.0,389.5 L604.4,387.1 L604.8,384.9 L605.1,382.9 L605.4,381.1 L605.7,379.5 L605.9,378.4 L601.9,377.6 L601.7,378.9 L601.5,380.4 L601.2,382.2 L600.8,384.3 L600.5,386.4 L600.1,388.8 L599.6,391.1 L599.1,393.5 L598.6,395.8 L598.1,398.0 L597.5,400.2 L596.8,402.3 L596.1,404.6 L595.4,406.8 L594.7,409.1 L593.8,411.4 L593.0,413.7 L592.1,416.2 L591.2,418.6 L590.2,421.1 L589.1,423.8 L587.8,426.8 L586.5,430.0 L585.1,433.2 L583.6,436.5 L582.3,439.6 L581.0,442.5 L579.8,445.1 L578.8,447.3 L578.1,448.9Z"/>
<path d="M495.3,450.1 L495.3,448.9 L495.2,447.2 L495.1,445.2 L495.0,442.9 L494.9,440.6 L494.9,438.2 L494.8,435.9 L494.7,433.9 L494.6,432.2 L494.6,431.0 L494.6,431.0 L494.4,432.2 L494.1,433.9 L493.7,435.9 L493.4,438.1 L493.0,440.4 L492.5,442.8 L492.2,445.0 L491.8,447.0 L491.5,448.7 L491.3,449.9Z"/>
<path d="M571.5,450.0 L571.4,448.8 L571.2,447.1 L571.0,445.1 L570.7,442.9 L570.5,440.5 L570.3,438.1 L570.0,435.9 L569.8,433.9 L569.6,432.2 L569.5,431.0 L569.5,431.0 L569.4,432.2 L569.2,433.9 L569.0,435.9 L568.7,438.1 L568.5,440.5 L568.3,442.9 L568.0,445.1 L567.8,447.1 L567.6,448.8 L567.5,450.0Z"/>
<path d="M511.5,449.0 L511.4,448.4 L511.3,447.6 L511.1,446.7 L510.9,445.6 L510.8,444.5 L510.6,443.4 L510.4,442.3 L510.2,441.4 L510.1,440.6 L510.0,440.0 L510.0,440.0 L509.9,440.6 L509.8,441.4 L509.6,442.3 L509.4,443.4 L509.2,444.5 L509.1,445.6 L508.9,446.7 L508.7,447.6 L508.6,448.4 L508.5,449.0Z"/>
<path d="M549.5,449.0 L549.4,448.5 L549.3,447.8 L549.1,446.9 L548.9,446.0 L548.8,445.0 L548.6,444.0 L548.4,443.1 L548.2,442.2 L548.1,441.5 L548.0,441.0 L548.0,441.0 L547.9,441.5 L547.8,442.2 L547.6,443.1 L547.4,444.0 L547.2,445.0 L547.1,446.0 L546.9,446.9 L546.7,447.8 L546.6,448.5 L546.5,449.0Z"/>
<path d="M286.0,611.7 L287.7,611.8 L289.9,612.0 L292.5,612.1 L295.4,612.3 L298.6,612.5 L301.9,612.6 L305.3,612.7 L308.7,612.7 L312.0,612.5 L315.2,612.2 L318.3,611.7 L321.7,611.0 L325.2,610.2 L328.7,609.2 L332.2,608.2 L335.5,607.2 L338.5,606.3 L341.3,605.4 L343.6,604.7 L345.3,604.2 L344.7,601.8 L342.9,602.3 L340.5,603.0 L337.8,603.9 L334.7,604.8 L331.5,605.8 L328.0,606.8 L324.6,607.7 L321.1,608.5 L317.9,609.2 L314.8,609.8 L311.8,610.1 L308.6,610.3 L305.3,610.5 L301.9,610.5 L298.7,610.5 L295.5,610.4 L292.6,610.4 L290.0,610.3 L287.7,610.3 L286.0,610.3Z"/>
<path d="M708.9,468.2 L708.6,468.9 L708.2,469.7 L707.7,470.7 L707.2,471.8 L706.7,473.0 L706.1,474.3 L705.5,475.6 L704.9,477.0 L704.4,478.3 L703.8,479.5 L703.3,480.8 L702.8,482.2 L702.2,483.7 L701.6,485.3 L701.0,486.8 L700.5,488.2 L700.0,489.6 L699.5,490.8 L699.1,491.8 L698.8,492.6 L701.2,493.4 L701.5,492.7 L701.8,491.6 L702.3,490.4 L702.8,489.1 L703.4,487.6 L703.9,486.1 L704.5,484.6 L705.1,483.2 L705.6,481.8 L706.2,480.5 L706.7,479.2 L707.2,478.0 L707.8,476.6 L708.4,475.3 L709.0,474.1 L709.5,472.9 L710.0,471.8 L710.5,470.8 L710.8,469.9 L711.1,469.3Z"/>
<path d="M353.5,468.9 L354.0,469.8 L354.6,471.0 L355.3,472.4 L356.1,473.9 L357.0,475.6 L358.0,477.4 L358.9,479.1 L359.9,480.8 L360.8,482.4 L361.8,483.9 L362.7,485.2 L363.7,486.6 L364.8,488.0 L365.9,489.4 L367.0,490.7 L368.0,492.0 L369.0,493.1 L369.9,494.1 L370.6,495.0 L371.1,495.6 L372.7,494.4 L372.1,493.7 L371.4,492.8 L370.5,491.8 L369.6,490.7 L368.5,489.4 L367.5,488.1 L366.4,486.8 L365.3,485.4 L364.3,484.1 L363.4,482.7 L362.5,481.4 L361.6,479.8 L360.6,478.1 L359.7,476.4 L358.7,474.7 L357.8,473.1 L357.0,471.5 L356.2,470.1 L355.6,469.0 L355.1,468.1Z"/>
<path d="M385.2,457.4 L385.8,457.7 L386.5,458.1 L387.3,458.5 L388.2,459.0 L389.2,459.5 L390.3,460.1 L391.3,460.7 L392.4,461.3 L393.4,461.9 L394.4,462.5 L395.4,463.1 L396.5,463.9 L397.6,464.7 L398.8,465.5 L400.0,466.3 L401.1,467.1 L402.2,467.9 L403.1,468.5 L403.9,469.1 L404.5,469.5 L405.9,467.5 L405.3,467.1 L404.5,466.5 L403.6,465.8 L402.5,465.1 L401.4,464.3 L400.2,463.5 L399.0,462.7 L397.8,461.9 L396.7,461.2 L395.6,460.5 L394.6,459.9 L393.5,459.3 L392.4,458.7 L391.3,458.2 L390.2,457.6 L389.2,457.1 L388.2,456.6 L387.4,456.2 L386.7,455.9 L386.2,455.6Z"/>
<path d="M499.6,946.7 L498.4,947.6 L496.9,948.7 L495.2,950.0 L493.4,951.4 L491.4,952.9 L489.4,954.5 L487.3,956.0 L485.2,957.5 L483.1,958.9 L481.1,960.2 L478.9,961.5 L476.6,962.8 L474.2,964.1 L471.9,965.4 L469.5,966.7 L467.2,967.9 L464.8,968.9 L462.5,969.9 L460.3,970.7 L458.2,971.3 L456.2,971.8 L454.0,972.0 L451.7,972.1 L449.2,972.0 L446.5,971.9 L443.8,971.7 L441.1,971.6 L438.3,971.5 L435.4,971.6 L432.7,971.9 L430.2,972.4 L427.9,972.9 L425.7,973.5 L423.6,974.2 L421.6,975.0 L419.7,975.8 L417.8,976.7 L416.0,977.6 L414.2,978.6 L412.3,979.6 L410.3,980.9 L408.4,982.4 L406.5,984.0 L404.7,985.6 L403.0,987.2 L401.4,988.7 L399.9,990.0 L398.6,991.1 L397.4,992.0 L396.3,992.6 L395.4,993.0 L394.6,993.2 L394.0,993.3 L393.3,993.4 L392.6,993.3 L391.6,993.2 L390.5,993.0 L389.0,992.8 L387.4,992.5 L385.5,992.3 L383.6,992.1 L381.5,991.7 L379.1,991.3 L376.6,990.8 L373.9,990.3 L371.2,989.8 L368.4,989.3 L365.6,989.0 L362.8,988.8 L360.0,988.8 L357.4,988.9 L354.8,989.2 L352.3,989.5 L349.9,990.0 L347.4,990.5 L345.0,991.1 L342.5,991.7 L340.0,992.3 L337.4,992.9 L334.7,993.5 L331.7,994.1 L328.4,994.9 L325.0,995.6 L321.4,996.4 L317.8,997.2 L314.3,998.0 L311.1,998.7 L308.3,999.3 L305.9,999.9 L304.0,1000.3 L304.0,1000.3 L305.9,1000.1 L308.4,999.9 L311.3,999.6 L314.6,999.3 L318.1,999.0 L321.7,998.7 L325.4,998.4 L328.9,998.1 L332.3,997.7 L335.3,997.5 L338.1,997.2 L340.8,996.9 L343.4,996.5 L345.9,996.2 L348.3,995.9 L350.7,995.6 L353.1,995.4 L355.4,995.2 L357.7,995.2 L360.0,995.2 L362.3,995.4 L364.8,995.7 L367.3,996.2 L369.9,996.7 L372.6,997.2 L375.1,997.8 L377.6,998.4 L380.1,998.9 L382.4,999.4 L384.5,999.7 L386.2,1000.0 L387.6,1000.3 L388.9,1000.6 L390.1,1000.9 L391.4,1001.2 L392.9,1001.4 L394.4,1001.5 L396.1,1001.4 L397.8,1001.0 L399.7,1000.4 L401.7,999.5 L403.6,998.3 L405.5,997.0 L407.3,995.6 L409.1,994.2 L410.8,992.7 L412.5,991.4 L414.2,990.2 L415.7,989.2 L417.3,988.4 L418.9,987.6 L420.5,986.8 L422.1,986.1 L423.7,985.5 L425.3,985.0 L426.9,984.5 L428.6,984.1 L430.3,983.7 L432.1,983.5 L433.9,983.3 L435.8,983.3 L437.8,983.5 L440.0,983.7 L442.5,984.1 L445.1,984.6 L447.9,985.0 L450.9,985.4 L453.9,985.7 L457.1,985.8 L460.4,985.7 L463.5,985.3 L466.6,984.8 L469.6,984.2 L472.7,983.4 L475.6,982.6 L478.5,981.8 L481.4,980.9 L484.1,980.1 L486.7,979.2 L489.3,978.4 L492.0,977.5 L494.9,976.5 L497.6,975.4 L500.4,974.3 L503.0,973.2 L505.4,972.2 L507.7,971.3 L509.6,970.4 L511.1,969.8 L512.4,969.3Z"/>
<path d="M336.9,994.8 L336.4,995.6 L335.8,996.5 L335.0,997.6 L334.2,998.8 L333.3,1000.1 L332.4,1001.5 L331.4,1002.9 L330.5,1004.4 L329.6,1005.8 L328.8,1007.1 L327.9,1008.5 L327.1,1010.0 L326.2,1011.6 L325.3,1013.2 L324.4,1014.8 L323.5,1016.4 L322.7,1017.8 L322.1,1019.1 L321.5,1020.2 L321.0,1021.0 L321.0,1021.0 L321.6,1020.3 L322.4,1019.3 L323.4,1018.2 L324.4,1017.0 L325.6,1015.7 L326.7,1014.3 L327.9,1012.8 L329.1,1011.5 L330.2,1010.1 L331.2,1008.9 L332.2,1007.6 L333.2,1006.3 L334.3,1005.0 L335.3,1003.6 L336.3,1002.3 L337.3,1001.0 L338.2,999.8 L338.9,998.7 L339.6,997.9 L340.1,997.2Z"/>
<path d="M361.4,992.7 L360.9,993.6 L360.3,994.6 L359.6,995.9 L358.8,997.4 L357.9,998.9 L357.0,1000.6 L356.1,1002.2 L355.2,1003.9 L354.3,1005.5 L353.5,1007.1 L352.7,1008.7 L351.9,1010.3 L351.0,1012.1 L350.1,1013.9 L349.3,1015.7 L348.4,1017.4 L347.7,1019.0 L347.0,1020.4 L346.4,1021.6 L346.0,1022.5 L346.0,1022.5 L346.6,1021.7 L347.4,1020.7 L348.4,1019.4 L349.5,1018.0 L350.7,1016.6 L351.9,1015.0 L353.1,1013.4 L354.3,1011.9 L355.4,1010.3 L356.5,1008.9 L357.5,1007.5 L358.6,1006.0 L359.6,1004.4 L360.7,1002.8 L361.7,1001.3 L362.7,999.8 L363.6,998.4 L364.4,997.1 L365.1,996.1 L365.6,995.3Z"/>
<path d="M407.3,992.1 L406.8,992.7 L406.2,993.4 L405.4,994.2 L404.5,995.1 L403.6,996.1 L402.6,997.1 L401.6,998.1 L400.7,999.1 L399.8,1000.0 L399.0,1000.9 L398.3,1001.7 L397.5,1002.5 L396.8,1003.3 L396.0,1004.2 L395.3,1005.0 L394.6,1005.7 L393.9,1006.4 L393.4,1007.0 L392.9,1007.6 L392.5,1008.0 L392.5,1008.0 L393.0,1007.7 L393.6,1007.4 L394.4,1007.0 L395.2,1006.5 L396.1,1006.0 L397.1,1005.5 L398.1,1004.9 L399.0,1004.4 L400.0,1003.8 L401.0,1003.1 L401.9,1002.5 L403.0,1001.7 L404.1,1000.9 L405.2,1000.0 L406.4,999.2 L407.4,998.4 L408.4,997.6 L409.3,996.9 L410.1,996.3 L410.7,995.9Z"/>
<path d="M475.5,968.4 L474.7,969.1 L473.6,970.0 L472.5,971.1 L471.2,972.3 L469.7,973.5 L468.3,974.8 L466.7,976.1 L465.1,977.4 L463.5,978.7 L462.0,979.8 L460.3,980.9 L458.6,982.0 L456.9,983.1 L455.0,984.2 L453.1,985.3 L451.2,986.4 L449.1,987.5 L447.1,988.7 L444.9,989.8 L442.8,991.0 L440.5,992.2 L438.2,993.5 L435.9,994.7 L433.4,996.0 L431.0,997.3 L428.4,998.6 L425.9,999.9 L423.4,1001.2 L420.8,1002.6 L418.3,1003.9 L415.7,1005.2 L413.1,1006.5 L410.5,1007.8 L407.7,1009.2 L405.0,1010.5 L402.3,1011.9 L399.7,1013.2 L397.1,1014.6 L394.6,1016.0 L392.3,1017.4 L390.1,1018.8 L388.0,1020.2 L386.1,1021.5 L384.2,1022.9 L382.4,1024.3 L380.7,1025.7 L379.0,1027.1 L377.3,1028.5 L375.6,1029.9 L373.8,1031.4 L371.9,1033.0 L369.9,1034.8 L367.9,1036.6 L365.8,1038.6 L363.7,1040.5 L361.8,1042.3 L360.0,1044.0 L358.4,1045.5 L357.1,1046.8 L356.0,1047.8 L356.0,1047.8 L357.2,1047.0 L358.8,1045.9 L360.6,1044.7 L362.7,1043.4 L364.9,1041.9 L367.2,1040.4 L369.6,1038.9 L371.9,1037.4 L374.1,1035.9 L376.2,1034.6 L378.1,1033.3 L380.0,1032.1 L381.8,1030.9 L383.6,1029.6 L385.4,1028.4 L387.2,1027.3 L389.1,1026.1 L391.0,1024.9 L393.1,1023.8 L395.2,1022.6 L397.5,1021.5 L400.0,1020.3 L402.5,1019.2 L405.2,1018.0 L407.9,1016.9 L410.7,1015.7 L413.5,1014.6 L416.3,1013.4 L419.0,1012.3 L421.7,1011.1 L424.3,1010.0 L427.0,1008.8 L429.6,1007.7 L432.2,1006.6 L434.8,1005.4 L437.4,1004.3 L439.9,1003.2 L442.4,1002.1 L444.9,1001.0 L447.2,1000.0 L449.5,998.9 L451.7,997.9 L453.9,996.9 L456.0,995.9 L458.1,995.0 L460.2,994.0 L462.2,993.0 L464.2,992.1 L466.1,991.1 L468.0,990.2 L470.0,989.2 L472.0,988.2 L474.0,987.1 L475.9,986.1 L477.8,985.2 L479.5,984.2 L481.1,983.4 L482.5,982.7 L483.6,982.1 L484.5,981.6Z"/>
<path d="M397.0,1017.6 L396.8,1018.1 L396.6,1018.8 L396.3,1019.6 L395.9,1020.4 L395.5,1021.4 L395.1,1022.4 L394.6,1023.5 L394.2,1024.7 L393.8,1025.9 L393.4,1027.1 L393.1,1028.2 L392.7,1029.4 L392.4,1030.6 L392.1,1031.9 L391.8,1033.1 L391.5,1034.4 L391.2,1035.8 L390.8,1037.2 L390.5,1038.8 L390.1,1040.4 L389.7,1042.2 L389.1,1044.3 L388.6,1046.7 L388.0,1049.1 L387.4,1051.5 L386.9,1053.9 L386.4,1056.1 L385.9,1058.1 L385.5,1059.7 L385.2,1061.0 L385.2,1061.0 L385.7,1059.8 L386.4,1058.3 L387.3,1056.4 L388.2,1054.3 L389.3,1052.1 L390.3,1049.8 L391.3,1047.6 L392.3,1045.4 L393.2,1043.4 L393.9,1041.6 L394.5,1040.0 L395.1,1038.5 L395.6,1037.1 L396.1,1035.8 L396.5,1034.5 L397.0,1033.3 L397.4,1032.1 L397.8,1031.0 L398.2,1030.0 L398.6,1028.9 L399.0,1027.9 L399.5,1026.9 L400.0,1025.9 L400.5,1024.9 L401.0,1024.0 L401.5,1023.1 L401.9,1022.3 L402.3,1021.5 L402.7,1020.9 L403.0,1020.4Z"/>
<path d="M459.1,991.5 L458.4,992.1 L457.6,992.9 L456.6,993.8 L455.4,994.8 L454.2,995.9 L452.9,997.1 L451.5,998.3 L450.1,999.5 L448.8,1000.7 L447.4,1001.9 L446.1,1003.2 L444.7,1004.5 L443.3,1005.8 L441.9,1007.2 L440.4,1008.6 L439.0,1010.0 L437.5,1011.3 L436.1,1012.6 L434.6,1013.9 L433.2,1015.1 L431.8,1016.2 L430.4,1017.2 L428.9,1018.2 L427.4,1019.2 L425.9,1020.2 L424.4,1021.2 L422.9,1022.2 L421.4,1023.2 L419.9,1024.4 L418.4,1025.5 L417.1,1026.7 L415.7,1027.9 L414.4,1029.2 L413.1,1030.4 L411.8,1031.7 L410.5,1033.0 L409.3,1034.4 L408.1,1035.9 L407.0,1037.4 L406.0,1039.0 L405.1,1040.8 L404.3,1042.8 L403.5,1044.9 L402.8,1047.1 L402.2,1049.2 L401.6,1051.3 L401.1,1053.2 L400.7,1055.0 L400.3,1056.4 L400.0,1057.5 L400.0,1057.5 L400.5,1056.5 L401.2,1055.1 L401.9,1053.5 L402.8,1051.7 L403.7,1049.8 L404.7,1047.9 L405.8,1045.9 L406.8,1044.1 L407.9,1042.4 L409.0,1041.0 L410.0,1039.7 L411.2,1038.4 L412.3,1037.2 L413.5,1036.0 L414.8,1034.9 L416.1,1033.8 L417.4,1032.7 L418.8,1031.6 L420.2,1030.5 L421.6,1029.5 L422.9,1028.5 L424.3,1027.5 L425.8,1026.6 L427.2,1025.7 L428.8,1024.8 L430.3,1023.9 L431.9,1023.0 L433.5,1022.0 L435.2,1021.0 L436.8,1019.9 L438.4,1018.8 L440.0,1017.6 L441.7,1016.4 L443.3,1015.2 L445.0,1013.9 L446.6,1012.7 L448.1,1011.5 L449.7,1010.3 L451.2,1009.1 L452.6,1008.1 L454.0,1007.0 L455.4,1005.9 L456.9,1004.7 L458.3,1003.6 L459.7,1002.5 L461.0,1001.5 L462.2,1000.6 L463.3,999.7 L464.2,999.0 L464.9,998.5Z"/>
<path d="M484.2,970.5 L483.6,971.8 L482.8,973.5 L481.9,975.4 L481.0,977.6 L479.9,979.8 L478.8,982.2 L477.7,984.6 L476.5,986.9 L475.4,989.0 L474.3,990.9 L473.2,992.8 L472.1,994.6 L470.9,996.4 L469.7,998.2 L468.5,1000.0 L467.2,1001.8 L465.9,1003.6 L464.5,1005.4 L463.0,1007.1 L461.5,1008.9 L459.9,1010.7 L458.1,1012.5 L456.3,1014.3 L454.3,1016.1 L452.3,1018.0 L450.2,1019.9 L448.2,1021.8 L446.2,1023.7 L444.3,1025.6 L442.5,1027.5 L440.9,1029.5 L439.3,1031.4 L437.8,1033.3 L436.3,1035.2 L434.9,1037.1 L433.6,1039.0 L432.3,1040.9 L431.2,1042.8 L430.2,1044.7 L429.2,1046.5 L428.5,1048.5 L427.9,1050.5 L427.4,1052.6 L427.0,1054.6 L426.7,1056.5 L426.5,1058.3 L426.4,1060.0 L426.3,1061.5 L426.1,1062.8 L426.0,1063.8 L426.0,1063.8 L426.4,1062.8 L426.8,1061.6 L427.3,1060.2 L427.9,1058.6 L428.5,1056.9 L429.2,1055.2 L430.0,1053.4 L430.8,1051.7 L431.8,1050.0 L432.8,1048.5 L433.9,1046.9 L435.1,1045.4 L436.4,1043.8 L437.8,1042.2 L439.2,1040.6 L440.8,1039.0 L442.4,1037.3 L444.0,1035.7 L445.8,1034.1 L447.5,1032.5 L449.3,1030.9 L451.2,1029.3 L453.3,1027.7 L455.4,1026.1 L457.6,1024.5 L459.8,1022.9 L462.1,1021.2 L464.3,1019.5 L466.5,1017.8 L468.5,1016.1 L470.4,1014.4 L472.3,1012.7 L474.1,1011.1 L475.8,1009.4 L477.5,1007.8 L479.2,1006.1 L480.9,1004.4 L482.5,1002.7 L484.1,1000.9 L485.7,999.1 L487.4,997.0 L489.1,994.8 L490.7,992.5 L492.4,990.2 L494.0,988.0 L495.5,985.8 L496.8,983.8 L498.0,982.0 L499.0,980.6 L499.8,979.5Z"/>
<path d="M471.0,1007.7 L471.0,1008.4 L470.9,1009.3 L470.9,1010.3 L470.9,1011.4 L470.8,1012.6 L470.7,1013.9 L470.7,1015.3 L470.6,1016.7 L470.4,1018.1 L470.3,1019.5 L470.1,1021.1 L469.8,1022.9 L469.5,1025.0 L469.2,1027.1 L468.9,1029.2 L468.5,1031.3 L468.2,1033.2 L467.9,1034.9 L467.7,1036.4 L467.5,1037.5 L467.5,1037.5 L467.9,1036.5 L468.6,1035.1 L469.3,1033.5 L470.1,1031.7 L470.9,1029.8 L471.8,1027.8 L472.7,1025.8 L473.4,1023.9 L474.1,1022.1 L474.7,1020.5 L475.1,1019.0 L475.5,1017.4 L475.8,1016.0 L476.1,1014.5 L476.3,1013.2 L476.5,1011.9 L476.6,1010.8 L476.8,1009.8 L476.9,1009.0 L477.0,1008.3Z"/>
<path d="M491.2,952.2 L491.3,954.1 L491.3,956.7 L491.4,959.9 L491.5,963.4 L491.6,967.1 L491.7,970.9 L491.8,974.5 L491.9,977.9 L492.0,980.9 L492.1,983.3 L492.3,985.1 L492.4,986.5 L492.6,987.7 L492.8,988.5 L493.1,989.2 L493.3,989.6 L493.5,989.9 L493.7,990.5 L493.8,991.3 L493.8,992.6 L493.8,994.3 L493.8,996.1 L493.7,998.1 L493.6,1000.2 L493.5,1002.4 L493.4,1004.6 L493.2,1006.8 L492.9,1009.0 L492.6,1011.1 L492.2,1013.1 L491.8,1015.1 L491.2,1017.1 L490.4,1019.1 L489.7,1021.2 L488.8,1023.4 L487.9,1025.5 L487.1,1027.7 L486.2,1029.8 L485.4,1032.0 L484.7,1034.1 L484.1,1036.2 L483.5,1038.3 L482.9,1040.4 L482.4,1042.5 L481.9,1044.5 L481.4,1046.4 L481.0,1048.1 L480.7,1049.6 L480.4,1050.9 L480.1,1051.9 L488.9,1054.1 L489.1,1053.1 L489.5,1051.8 L489.9,1050.2 L490.3,1048.6 L490.8,1046.7 L491.3,1044.8 L491.8,1042.9 L492.4,1040.9 L493.1,1039.0 L493.7,1037.1 L494.4,1035.3 L495.2,1033.5 L496.1,1031.5 L497.0,1029.4 L498.0,1027.3 L499.0,1025.2 L500.0,1023.0 L500.9,1020.8 L501.9,1018.5 L502.8,1016.3 L503.6,1014.0 L504.4,1011.7 L505.1,1009.4 L505.8,1007.1 L506.5,1004.8 L507.2,1002.6 L507.8,1000.5 L508.4,998.6 L509.0,996.9 L509.6,995.4 L510.1,994.1 L510.5,993.1 L510.9,992.3 L511.2,991.6 L511.5,991.0 L511.9,990.6 L512.2,990.1 L512.7,989.4 L513.2,988.3 L513.9,986.7 L514.7,984.6 L515.8,981.8 L517.0,978.7 L518.3,975.3 L519.6,971.8 L520.9,968.3 L522.1,965.0 L523.2,962.1 L524.1,959.6 L524.8,957.8Z"/>
<path d="M503.5,1016.2 L503.7,1017.3 L503.9,1018.9 L504.1,1020.7 L504.4,1022.7 L504.7,1024.9 L505.0,1027.2 L505.3,1029.5 L505.6,1031.7 L506.0,1033.8 L506.3,1035.7 L506.7,1037.6 L507.0,1039.5 L507.5,1041.4 L507.9,1043.3 L508.3,1045.2 L508.7,1046.9 L509.1,1048.6 L509.5,1050.0 L509.7,1051.2 L510.0,1052.2 L511.4,1051.8 L511.2,1050.9 L510.9,1049.6 L510.6,1048.2 L510.2,1046.6 L509.9,1044.9 L509.5,1043.0 L509.1,1041.1 L508.7,1039.2 L508.4,1037.3 L508.1,1035.5 L507.9,1033.6 L507.6,1031.4 L507.4,1029.2 L507.3,1026.9 L507.1,1024.7 L506.9,1022.5 L506.8,1020.4 L506.7,1018.6 L506.6,1017.0 L506.5,1015.8Z"/>
<path d="M500.8,1030.7 L500.5,1031.2 L500.0,1031.8 L499.5,1032.5 L498.8,1033.3 L498.1,1034.2 L497.4,1035.2 L496.8,1036.2 L496.2,1037.3 L495.7,1038.4 L495.3,1039.5 L495.1,1040.7 L495.0,1042.1 L495.0,1043.5 L495.1,1045.0 L495.1,1046.4 L495.3,1047.8 L495.4,1049.2 L495.5,1050.3 L495.6,1051.3 L495.7,1052.0 L497.1,1052.0 L497.1,1051.2 L497.0,1050.2 L496.9,1049.0 L496.8,1047.7 L496.7,1046.3 L496.6,1044.9 L496.5,1043.5 L496.6,1042.1 L496.7,1040.9 L496.9,1039.9 L497.2,1039.0 L497.7,1038.1 L498.3,1037.1 L498.9,1036.2 L499.6,1035.4 L500.3,1034.6 L501.0,1033.8 L501.6,1033.2 L502.2,1032.6 L502.6,1032.1Z"/>
<path d="M521.0,974.3 L521.0,975.9 L521.0,977.9 L521.0,980.3 L520.9,983.1 L520.9,986.0 L520.9,989.0 L520.9,991.9 L520.9,994.8 L520.9,997.4 L521.0,999.6 L521.1,1001.5 L521.2,1003.2 L521.4,1004.7 L521.5,1006.1 L521.7,1007.5 L521.9,1008.8 L522.1,1010.2 L522.3,1011.6 L522.5,1013.1 L522.7,1014.8 L522.9,1016.7 L523.1,1018.7 L523.4,1020.8 L523.6,1023.0 L523.9,1025.2 L524.1,1027.4 L524.4,1029.6 L524.6,1031.8 L524.8,1033.8 L525.0,1035.8 L525.2,1037.7 L525.3,1039.7 L525.5,1041.8 L525.7,1043.8 L525.8,1045.7 L525.9,1047.6 L526.0,1049.3 L526.1,1050.8 L526.2,1052.1 L526.3,1053.1 L531.3,1052.9 L531.3,1051.9 L531.3,1050.6 L531.2,1049.1 L531.2,1047.3 L531.2,1045.5 L531.1,1043.5 L531.1,1041.5 L531.1,1039.4 L531.0,1037.4 L531.0,1035.4 L531.0,1033.4 L530.9,1031.3 L530.8,1029.2 L530.7,1027.0 L530.7,1024.7 L530.6,1022.5 L530.6,1020.4 L530.6,1018.3 L530.6,1016.4 L530.7,1014.6 L530.8,1012.9 L531.0,1011.5 L531.1,1010.1 L531.4,1008.9 L531.6,1007.7 L531.8,1006.5 L532.1,1005.2 L532.4,1003.8 L532.7,1002.2 L533.0,1000.4 L533.3,998.2 L533.7,995.7 L534.2,993.0 L534.6,990.1 L535.1,987.2 L535.6,984.3 L536.0,981.6 L536.4,979.2 L536.7,977.2 L537.0,975.7Z"/>
<path d="M530.0,1033.7 L530.4,1034.3 L531.0,1035.0 L531.7,1035.9 L532.5,1036.8 L533.3,1037.8 L534.1,1038.9 L534.9,1039.9 L535.7,1041.0 L536.4,1042.0 L537.0,1042.9 L537.6,1043.9 L538.1,1044.9 L538.6,1046.0 L539.1,1047.1 L539.6,1048.1 L540.0,1049.1 L540.4,1050.1 L540.7,1051.0 L541.1,1051.7 L541.3,1052.2 L542.5,1051.8 L542.3,1051.2 L542.0,1050.5 L541.7,1049.6 L541.4,1048.6 L541.0,1047.6 L540.6,1046.5 L540.1,1045.3 L539.6,1044.2 L539.1,1043.1 L538.6,1042.1 L538.0,1041.0 L537.3,1039.9 L536.6,1038.8 L535.8,1037.6 L535.0,1036.5 L534.3,1035.4 L533.6,1034.4 L532.9,1033.6 L532.4,1032.8 L532.0,1032.3Z"/>
<path d="M536.1,990.9 L536.3,991.8 L536.6,992.9 L537.0,994.1 L537.4,995.6 L537.9,997.1 L538.4,998.8 L538.9,1000.5 L539.4,1002.2 L540.0,1003.9 L540.5,1005.6 L541.2,1007.4 L541.9,1009.3 L542.7,1011.4 L543.5,1013.6 L544.3,1015.7 L545.1,1017.8 L545.8,1019.7 L546.5,1021.4 L547.1,1022.9 L547.5,1024.0 L547.5,1024.0 L547.6,1022.8 L547.8,1021.3 L548.0,1019.4 L548.2,1017.4 L548.5,1015.2 L548.7,1012.9 L548.9,1010.6 L549.1,1008.4 L549.3,1006.3 L549.5,1004.4 L549.6,1002.6 L549.7,1000.8 L549.7,999.0 L549.8,997.2 L549.8,995.5 L549.9,993.9 L549.9,992.4 L549.9,991.1 L549.9,990.0 L549.9,989.1Z"/>
<path d="M542.1,983.9 L542.2,985.2 L542.4,986.9 L542.6,989.2 L542.8,991.8 L543.0,994.6 L543.3,997.6 L543.7,1000.5 L544.1,1003.4 L544.7,1006.2 L545.4,1008.9 L546.4,1011.2 L547.6,1013.3 L548.9,1015.1 L550.3,1016.7 L551.6,1018.1 L552.8,1019.4 L554.0,1020.6 L555.0,1021.7 L555.8,1022.7 L556.5,1023.7 L557.2,1024.9 L557.9,1026.2 L558.5,1027.4 L559.1,1028.7 L559.6,1029.9 L560.1,1031.2 L560.5,1032.5 L560.9,1033.8 L561.3,1035.2 L561.7,1036.6 L562.1,1038.1 L562.4,1039.9 L562.8,1041.8 L563.1,1043.7 L563.3,1045.7 L563.6,1047.6 L563.8,1049.4 L564.0,1051.1 L564.2,1052.5 L564.3,1053.6 L572.3,1052.4 L572.1,1051.4 L571.9,1050.1 L571.7,1048.5 L571.5,1046.6 L571.3,1044.6 L571.0,1042.6 L570.7,1040.5 L570.3,1038.4 L569.9,1036.4 L569.5,1034.6 L569.0,1033.0 L568.5,1031.4 L568.0,1029.9 L567.5,1028.4 L566.9,1027.0 L566.3,1025.5 L565.6,1024.1 L565.0,1022.7 L564.2,1021.2 L563.5,1019.7 L562.4,1018.0 L561.3,1016.5 L560.1,1015.0 L558.9,1013.7 L557.8,1012.5 L556.9,1011.3 L556.1,1010.1 L555.6,1009.0 L555.3,1007.9 L555.2,1006.7 L555.4,1005.3 L555.8,1003.5 L556.4,1001.3 L557.2,998.9 L558.0,996.5 L559.0,994.0 L559.9,991.7 L560.7,989.6 L561.5,987.6 L561.9,986.1Z"/>
<path d="M558.9,985.2 L560.0,985.6 L561.6,986.2 L563.4,987.0 L565.5,987.8 L567.8,988.8 L570.3,989.7 L572.8,990.6 L575.3,991.5 L577.7,992.3 L580.1,992.9 L582.3,993.4 L584.4,993.8 L586.6,994.1 L588.8,994.4 L590.9,994.5 L593.0,994.7 L595.0,994.8 L596.9,994.8 L598.7,994.8 L600.5,994.8 L602.4,994.8 L604.1,994.7 L605.7,994.4 L607.2,994.1 L608.4,993.8 L609.6,993.5 L610.5,993.1 L611.3,992.9 L611.8,992.7 L612.2,992.5 L611.8,983.5 L611.1,983.4 L610.2,983.3 L609.4,983.2 L608.5,983.1 L607.7,983.0 L606.8,982.7 L606.0,982.5 L605.1,982.1 L604.3,981.7 L603.5,981.2 L602.4,980.5 L601.3,979.7 L600.0,978.8 L598.6,977.8 L597.2,976.7 L595.8,975.6 L594.3,974.4 L592.8,973.3 L591.4,972.1 L589.9,971.1 L588.4,969.9 L586.8,968.7 L584.9,967.3 L583.0,965.9 L581.0,964.5 L579.1,963.1 L577.3,961.8 L575.7,960.6 L574.2,959.6 L573.1,958.8Z"/>
<path d="M553.5,969.3 L554.6,969.7 L556.0,970.4 L557.8,971.2 L559.8,972.2 L562.0,973.2 L564.4,974.3 L566.8,975.4 L569.2,976.4 L571.5,977.3 L573.9,978.2 L576.2,978.9 L578.3,979.4 L580.3,979.8 L582.1,980.0 L583.6,980.1 L585.0,980.2 L586.1,980.3 L587.1,980.3 L588.1,980.4 L589.2,980.6 L590.6,980.8 L592.2,981.2 L594.1,981.7 L596.2,982.4 L598.5,983.1 L600.9,983.8 L603.5,984.5 L606.1,985.1 L608.9,985.6 L611.8,986.0 L614.7,986.0 L617.5,985.7 L620.1,985.2 L622.5,984.7 L624.7,984.1 L626.7,983.6 L628.6,983.2 L630.2,982.9 L631.5,982.7 L632.6,982.7 L633.9,982.8 L635.2,983.0 L636.5,983.3 L637.8,983.6 L639.2,984.0 L640.5,984.5 L642.0,985.1 L643.5,985.7 L645.0,986.4 L646.5,987.0 L648.0,987.7 L649.4,988.5 L651.0,989.4 L652.8,990.5 L654.6,991.7 L656.5,992.9 L658.4,994.1 L660.4,995.2 L662.5,996.2 L664.6,996.9 L666.6,997.4 L668.5,997.7 L670.3,997.8 L672.0,997.8 L673.7,997.6 L675.2,997.4 L676.7,997.2 L678.2,996.9 L679.7,996.7 L681.3,996.5 L683.1,996.3 L684.9,996.0 L686.7,995.6 L688.6,995.2 L690.4,994.9 L692.2,994.5 L694.1,994.2 L695.9,993.9 L697.7,993.7 L699.6,993.6 L701.5,993.6 L703.4,993.6 L705.4,993.7 L707.4,993.9 L709.5,994.1 L711.8,994.3 L714.1,994.5 L716.5,994.7 L719.1,994.7 L721.8,994.7 L724.8,994.7 L728.2,994.5 L731.8,994.3 L735.6,994.0 L739.4,993.7 L743.0,993.5 L746.4,993.2 L749.5,992.9 L752.0,992.7 L754.0,992.6 L754.0,992.6 L752.0,992.5 L749.5,992.5 L746.4,992.4 L743.0,992.3 L739.3,992.2 L735.6,992.0 L731.8,991.9 L728.2,991.7 L724.9,991.5 L722.0,991.3 L719.4,991.0 L717.0,990.6 L714.7,990.2 L712.4,989.7 L710.3,989.3 L708.2,988.8 L706.1,988.4 L703.9,988.0 L701.8,987.8 L699.6,987.6 L697.4,987.6 L695.3,987.7 L693.2,987.9 L691.2,988.2 L689.3,988.5 L687.4,988.8 L685.6,989.1 L683.9,989.3 L682.3,989.5 L680.7,989.5 L679.1,989.5 L677.5,989.6 L676.0,989.6 L674.7,989.6 L673.4,989.6 L672.2,989.4 L671.2,989.2 L670.1,988.9 L669.1,988.6 L668.0,988.1 L666.9,987.4 L665.8,986.5 L664.5,985.4 L663.0,984.1 L661.5,982.7 L660.0,981.3 L658.3,979.7 L656.5,978.2 L654.6,976.8 L652.7,975.6 L650.9,974.6 L649.2,973.7 L647.5,972.8 L645.7,972.0 L643.9,971.2 L642.0,970.5 L640.0,969.9 L637.9,969.4 L635.8,969.0 L633.4,968.7 L630.8,968.7 L628.2,968.9 L625.7,969.3 L623.5,969.8 L621.4,970.3 L619.4,970.7 L617.6,971.1 L616.0,971.2 L614.6,971.2 L613.4,971.0 L612.2,970.6 L610.7,970.0 L609.1,969.2 L607.3,968.2 L605.5,967.1 L603.6,966.0 L601.6,964.7 L599.6,963.6 L597.4,962.4 L595.2,961.4 L593.0,960.7 L590.9,960.1 L589.1,959.7 L587.6,959.4 L586.3,959.2 L585.2,959.0 L584.4,958.8 L583.6,958.5 L582.9,958.2 L582.1,957.8 L581.0,957.1 L579.6,956.2 L577.9,955.0 L576.1,953.7 L574.2,952.4 L572.4,951.0 L570.6,949.8 L569.0,948.6 L567.6,947.5 L566.5,946.7Z"/>
<path d="M672.0,998.2 L672.7,998.7 L673.5,999.4 L674.5,1000.1 L675.6,1001.0 L676.7,1001.9 L678.0,1002.8 L679.2,1003.7 L680.4,1004.7 L681.5,1005.6 L682.6,1006.4 L683.6,1007.2 L684.7,1008.2 L685.9,1009.2 L687.0,1010.2 L688.2,1011.2 L689.2,1012.1 L690.2,1013.0 L691.1,1013.8 L691.9,1014.5 L692.5,1015.0 L692.5,1015.0 L692.1,1014.3 L691.6,1013.4 L691.0,1012.4 L690.3,1011.2 L689.6,1010.0 L688.8,1008.7 L688.0,1007.3 L687.2,1006.0 L686.3,1004.8 L685.4,1003.6 L684.5,1002.5 L683.5,1001.3 L682.4,1000.2 L681.3,999.0 L680.2,997.9 L679.1,996.8 L678.1,995.9 L677.3,995.0 L676.5,994.3 L676.0,993.8Z"/>
<path d="M695.2,992.9 L695.5,993.7 L695.9,994.6 L696.5,995.8 L697.0,997.1 L697.7,998.5 L698.3,999.9 L699.0,1001.4 L699.6,1002.9 L700.2,1004.3 L700.8,1005.6 L701.5,1006.9 L702.1,1008.3 L702.8,1009.8 L703.5,1011.3 L704.2,1012.8 L704.8,1014.2 L705.4,1015.6 L706.0,1016.7 L706.4,1017.7 L706.8,1018.5 L706.8,1018.5 L706.7,1017.7 L706.5,1016.6 L706.3,1015.3 L706.0,1013.9 L705.8,1012.3 L705.5,1010.7 L705.2,1009.1 L704.8,1007.4 L704.5,1005.9 L704.2,1004.4 L703.8,1003.0 L703.3,1001.5 L702.8,999.9 L702.3,998.4 L701.8,996.8 L701.3,995.4 L700.9,994.1 L700.4,992.9 L700.1,991.9 L699.8,991.1Z"/>
<path d="M714.8,994.1 L715.1,994.5 L715.5,995.0 L716.0,995.6 L716.5,996.3 L717.0,997.0 L717.6,997.8 L718.2,998.5 L718.8,999.3 L719.4,1000.0 L720.0,1000.7 L720.5,1001.3 L721.1,1002.0 L721.7,1002.7 L722.4,1003.4 L723.0,1004.1 L723.6,1004.7 L724.2,1005.3 L724.7,1005.8 L725.1,1006.3 L725.4,1006.6 L725.4,1006.6 L725.2,1006.2 L725.0,1005.6 L724.7,1005.0 L724.3,1004.2 L724.0,1003.4 L723.6,1002.6 L723.2,1001.7 L722.8,1000.9 L722.4,1000.1 L722.0,999.3 L721.7,998.6 L721.2,997.7 L720.8,996.9 L720.4,996.0 L719.9,995.2 L719.5,994.4 L719.1,993.6 L718.7,992.9 L718.4,992.4 L718.2,991.9Z"/>
<path d="M661.3,995.3 L661.6,995.8 L662.0,996.3 L662.5,997.0 L663.0,997.8 L663.6,998.7 L664.3,999.6 L664.9,1000.4 L665.5,1001.3 L666.1,1002.1 L666.7,1002.8 L667.3,1003.4 L667.9,1004.0 L668.5,1004.6 L669.1,1005.1 L669.7,1005.6 L670.3,1006.1 L670.8,1006.5 L671.3,1006.9 L671.7,1007.2 L672.0,1007.5 L672.0,1007.5 L671.8,1007.1 L671.6,1006.7 L671.4,1006.1 L671.1,1005.5 L670.8,1004.9 L670.5,1004.2 L670.1,1003.4 L669.8,1002.7 L669.5,1002.0 L669.3,1001.2 L669.0,1000.5 L668.8,999.6 L668.5,998.6 L668.2,997.6 L667.9,996.6 L667.6,995.7 L667.3,994.7 L667.1,993.9 L666.9,993.2 L666.7,992.7Z"/>
<path d="M590.9,989.8 L591.5,990.2 L592.2,990.8 L593.3,991.8 L594.5,993.0 L596.0,994.3 L597.6,995.6 L599.3,997.0 L601.2,998.2 L603.3,999.3 L605.7,1000.0 L608.2,1000.3 L610.5,1000.2 L612.6,999.8 L614.6,999.3 L616.6,998.7 L618.4,998.2 L620.1,997.6 L621.6,997.2 L622.8,997.0 L623.8,996.9 L624.8,996.9 L625.8,997.0 L626.6,997.1 L627.5,997.3 L628.2,997.5 L629.1,997.8 L629.9,998.1 L630.9,998.4 L631.9,998.9 L633.1,999.4 L634.3,999.8 L635.5,1000.3 L636.7,1000.7 L637.8,1001.1 L638.9,1001.6 L640.0,1002.2 L641.2,1002.8 L642.4,1003.6 L643.7,1004.5 L645.1,1005.6 L646.6,1006.9 L648.3,1008.7 L650.1,1010.8 L652.0,1013.2 L654.0,1015.6 L656.0,1018.0 L658.1,1020.3 L660.2,1022.5 L662.3,1024.4 L664.4,1025.9 L666.7,1027.0 L668.9,1027.5 L671.0,1027.5 L672.8,1027.2 L674.3,1026.8 L675.5,1026.4 L676.6,1026.1 L677.6,1026.0 L678.7,1026.0 L679.9,1026.3 L681.6,1027.0 L683.8,1028.1 L686.1,1029.6 L688.6,1031.2 L691.0,1032.9 L693.5,1034.6 L695.7,1036.2 L697.8,1037.7 L699.5,1038.9 L700.8,1039.8 L700.8,1039.8 L699.7,1038.7 L698.3,1037.1 L696.6,1035.3 L694.6,1033.2 L692.6,1031.1 L690.4,1028.9 L688.3,1026.7 L686.1,1024.8 L684.1,1023.1 L682.1,1021.7 L680.0,1020.8 L677.9,1020.4 L676.0,1020.3 L674.3,1020.5 L672.9,1020.7 L671.7,1020.9 L670.7,1021.0 L669.9,1020.9 L669.1,1020.6 L668.2,1020.1 L666.9,1019.0 L665.3,1017.4 L663.6,1015.5 L661.8,1013.2 L659.9,1010.8 L658.0,1008.4 L656.1,1005.9 L654.2,1003.6 L652.3,1001.5 L650.5,999.6 L648.8,998.1 L647.2,996.9 L645.7,995.8 L644.2,994.8 L642.8,994.0 L641.4,993.3 L640.1,992.6 L638.9,992.1 L637.7,991.6 L636.5,991.0 L635.4,990.5 L634.2,990.1 L633.1,989.6 L631.9,989.2 L630.7,988.8 L629.5,988.5 L628.1,988.3 L626.7,988.1 L625.3,988.0 L623.6,987.9 L621.6,988.0 L619.7,988.4 L617.7,988.8 L615.9,989.3 L614.1,989.8 L612.4,990.2 L610.9,990.5 L609.7,990.6 L608.8,990.5 L608.3,990.4 L607.9,990.1 L607.3,989.5 L606.6,988.6 L605.8,987.5 L604.9,986.2 L604.1,984.9 L603.4,983.6 L602.6,982.3 L601.8,981.1 L601.1,980.2Z"/>
<path d="M664.7,1023.9 L665.6,1024.9 L666.8,1026.2 L668.2,1027.8 L669.8,1029.5 L671.5,1031.4 L673.3,1033.3 L675.0,1035.2 L676.7,1037.1 L678.2,1038.9 L679.5,1040.6 L680.8,1042.2 L682.0,1043.9 L683.2,1045.6 L684.4,1047.3 L685.5,1049.1 L686.5,1050.7 L687.5,1052.2 L688.3,1053.6 L689.0,1054.7 L689.6,1055.6 L689.6,1055.6 L689.2,1054.6 L688.7,1053.3 L688.2,1051.8 L687.6,1050.2 L686.9,1048.3 L686.1,1046.4 L685.3,1044.4 L684.4,1042.5 L683.5,1040.5 L682.5,1038.6 L681.3,1036.7 L680.0,1034.7 L678.5,1032.5 L676.9,1030.4 L675.4,1028.2 L673.9,1026.2 L672.4,1024.3 L671.2,1022.6 L670.1,1021.2 L669.3,1020.1Z"/>
<path d="M581.0,988.3 L581.8,988.7 L582.8,989.3 L583.8,989.9 L585.0,990.5 L586.4,991.3 L587.8,992.1 L589.2,993.0 L590.8,993.9 L592.3,994.9 L593.9,996.1 L595.6,997.3 L597.4,998.7 L599.3,1000.2 L601.2,1001.8 L603.3,1003.5 L605.3,1005.2 L607.3,1006.8 L609.2,1008.5 L611.1,1010.1 L612.9,1011.6 L614.6,1013.1 L616.3,1014.5 L617.9,1015.8 L619.4,1017.1 L620.9,1018.4 L622.3,1019.6 L623.7,1021.0 L625.1,1022.3 L626.4,1023.8 L627.8,1025.4 L629.0,1027.1 L630.3,1029.0 L631.5,1031.2 L632.8,1033.5 L634.0,1035.9 L635.3,1038.3 L636.7,1040.7 L638.2,1043.0 L639.8,1045.2 L641.6,1047.2 L643.6,1049.0 L645.5,1050.5 L647.6,1051.7 L649.6,1052.9 L651.7,1053.9 L653.7,1054.8 L655.6,1055.7 L657.6,1056.5 L659.4,1057.4 L661.2,1058.4 L663.2,1059.5 L665.3,1060.7 L667.5,1062.0 L669.7,1063.3 L671.9,1064.6 L674.0,1065.8 L675.9,1066.9 L677.7,1068.0 L679.2,1068.8 L680.3,1069.5 L680.3,1069.5 L679.3,1068.6 L678.1,1067.4 L676.7,1066.0 L675.1,1064.4 L673.3,1062.6 L671.5,1060.9 L669.6,1059.1 L667.7,1057.4 L665.8,1055.7 L664.0,1054.2 L662.1,1052.9 L660.1,1051.6 L658.2,1050.6 L656.2,1049.5 L654.4,1048.5 L652.5,1047.5 L650.8,1046.5 L649.2,1045.4 L647.7,1044.1 L646.4,1042.8 L645.1,1041.2 L643.9,1039.3 L642.8,1037.2 L641.6,1035.0 L640.5,1032.6 L639.3,1030.2 L638.2,1027.7 L637.0,1025.2 L635.6,1022.9 L634.2,1020.6 L632.8,1018.7 L631.4,1016.8 L630.0,1015.1 L628.5,1013.5 L627.1,1011.9 L625.7,1010.4 L624.2,1008.9 L622.8,1007.5 L621.3,1005.9 L619.7,1004.4 L618.0,1002.6 L616.2,1000.9 L614.4,999.0 L612.4,997.2 L610.5,995.3 L608.6,993.5 L606.7,991.7 L604.9,990.0 L603.2,988.4 L601.7,986.9 L600.3,985.5 L598.9,984.1 L597.5,982.7 L596.3,981.4 L595.1,980.2 L594.0,979.0 L593.1,978.0 L592.2,977.1 L591.5,976.3 L591.0,975.7Z"/>
<path d="M565.0,997.7 L565.5,998.1 L566.1,998.6 L566.9,999.3 L567.8,1000.2 L568.9,1001.2 L570.1,1002.3 L571.4,1003.5 L572.8,1004.8 L574.4,1006.2 L576.1,1007.6 L578.0,1009.2 L580.0,1010.8 L582.2,1012.5 L584.5,1014.2 L586.8,1016.0 L589.2,1017.8 L591.5,1019.7 L593.7,1021.4 L595.7,1023.2 L597.5,1024.8 L599.2,1026.4 L600.8,1028.0 L602.4,1029.7 L603.9,1031.3 L605.4,1033.0 L606.9,1034.7 L608.4,1036.5 L609.9,1038.3 L611.5,1040.2 L613.2,1042.1 L614.8,1044.0 L616.5,1046.0 L618.1,1048.0 L619.8,1050.0 L621.5,1052.1 L623.3,1054.2 L625.1,1056.3 L626.9,1058.3 L628.9,1060.2 L630.9,1062.1 L633.0,1063.9 L635.4,1065.7 L637.9,1067.5 L640.4,1069.2 L642.9,1070.8 L645.3,1072.4 L647.6,1073.8 L649.6,1075.0 L651.3,1076.1 L652.6,1076.9 L652.6,1076.9 L651.5,1075.8 L650.2,1074.3 L648.5,1072.6 L646.7,1070.7 L644.8,1068.6 L642.7,1066.5 L640.7,1064.2 L638.7,1062.0 L636.8,1059.9 L635.1,1057.9 L633.5,1055.9 L632.0,1053.9 L630.4,1051.9 L628.8,1049.8 L627.2,1047.7 L625.6,1045.6 L624.0,1043.4 L622.5,1041.3 L620.9,1039.2 L619.4,1037.1 L618.0,1035.1 L616.7,1033.2 L615.4,1031.2 L614.2,1029.3 L612.9,1027.3 L611.6,1025.4 L610.2,1023.4 L608.8,1021.3 L607.2,1019.3 L605.5,1017.2 L603.6,1015.1 L601.5,1012.9 L599.3,1010.8 L597.1,1008.7 L594.9,1006.6 L592.8,1004.5 L590.7,1002.6 L588.9,1000.8 L587.2,999.1 L585.9,997.6 L584.8,996.2 L583.8,994.8 L582.9,993.5 L582.2,992.3 L581.6,991.1 L581.0,990.0 L580.5,989.0 L580.0,988.0 L579.5,987.1 L579.0,986.3Z"/>
<path d="M575.4,1006.0 L575.7,1006.6 L576.1,1007.5 L576.6,1008.4 L577.1,1009.5 L577.6,1010.6 L578.2,1011.8 L578.8,1013.0 L579.4,1014.4 L580.0,1015.7 L580.6,1017.1 L581.2,1018.6 L581.8,1020.2 L582.6,1022.0 L583.3,1023.8 L584.0,1025.7 L584.7,1027.6 L585.5,1029.4 L586.2,1031.3 L586.8,1033.0 L587.5,1034.7 L588.1,1036.3 L588.7,1038.1 L589.4,1039.8 L590.0,1041.6 L590.7,1043.4 L591.2,1045.0 L591.8,1046.5 L592.3,1047.9 L592.7,1049.1 L593.0,1050.0 L593.0,1050.0 L593.0,1049.0 L593.1,1047.8 L593.2,1046.4 L593.3,1044.7 L593.4,1042.9 L593.5,1041.1 L593.6,1039.1 L593.6,1037.2 L593.5,1035.2 L593.3,1033.3 L593.1,1031.4 L592.7,1029.5 L592.4,1027.4 L591.9,1025.4 L591.5,1023.4 L591.0,1021.4 L590.5,1019.4 L590.0,1017.5 L589.5,1015.8 L589.0,1014.1 L588.6,1012.5 L588.1,1011.0 L587.5,1009.5 L587.0,1008.0 L586.5,1006.7 L586.0,1005.5 L585.6,1004.4 L585.2,1003.5 L584.8,1002.7 L584.6,1002.0Z"/>
</g>
<g fill="#fff"><path d="M546,583 L541,595 L538.3,601 L533.3,623.3 L531.1,645.6 L532.2,667.8 L534.4,690 L536.7,712.2 L538.3,723.5 L539.6,712.2 L541.9,690 L544.6,667.8 L549,645.6 L554.4,623.3 L562.2,606.7 L570,594 L577,584Z"/><path d="M509,611 L516.5,611 Q515,632 511.2,651 Q510.2,632 509,611Z"/></g>
<g fill="#b9cdd3">
<path d="M453.0,262.0 C464.6,253.0 465.3,238.2 454.5,228.2 C442.9,237.2 442.2,252.1 453.0,262.0Z M484.5,283.8 C497.4,278.4 502.6,264.4 496.2,252.0 C483.4,257.3 478.2,271.3 484.5,283.8Z M457.0,284.5 C470.8,282.4 478.2,270.3 473.8,257.0 C459.9,259.1 452.5,271.2 457.0,284.5Z M427.5,294.5 C442.6,291.9 450.9,278.4 446.2,263.8 C431.1,266.3 422.9,279.9 427.5,294.5Z M422.5,286.2 C424.2,270.9 413.4,259.0 398.0,259.2 C396.3,274.6 407.1,286.5 422.5,286.2Z M422.5,328.8 C429.9,314.8 424.4,298.9 410.0,292.5 C402.6,306.4 408.1,322.4 422.5,328.8Z M375.0,331.2 C370.2,313.2 352.3,302.7 334.2,307.5 C339.0,325.6 356.9,336.0 375.0,331.2Z M405.0,347.5 C411.8,328.7 401.9,310.0 382.5,305.0 C375.7,323.8 385.6,342.5 405.0,347.5Z M361.2,358.8 C357.2,340.0 339.6,329.6 321.2,335.0 C325.3,353.7 342.9,364.2 361.2,358.8Z M397.0,368.8 C396.2,351.7 382.3,340.7 365.5,343.8 C366.3,360.8 380.2,371.8 397.0,368.8Z M402.5,377.0 C417.9,374.2 426.7,360.1 422.5,345.0 C407.1,347.8 398.3,361.9 402.5,377.0Z M367.5,370.0 C355.7,360.9 339.8,363.4 331.2,375.5 C343.0,384.6 359.0,382.1 367.5,370.0Z M400.0,395.0 C396.5,380.5 382.4,372.2 368.0,376.2 C371.5,390.8 385.6,399.0 400.0,395.0Z M335.0,388.0 C325.4,373.6 306.1,369.2 291.2,378.0 C300.9,392.4 320.1,396.8 335.0,388.0Z M370.0,395.0 C363.8,386.1 352.8,385.0 345.0,392.5 C351.2,401.4 362.2,402.5 370.0,395.0Z M428.0,401.2 C437.4,393.2 437.2,380.7 427.5,373.0 C418.1,381.1 418.3,393.5 428.0,401.2Z M437.5,327.5 C443.0,317.0 438.0,308.2 426.2,307.5 C420.8,318.0 425.7,326.8 437.5,327.5Z M440.0,360.0 C446.6,350.4 443.3,339.4 432.5,335.0 C425.9,344.6 429.2,355.6 440.0,360.0Z M472.5,407.5 C483.1,404.4 488.1,393.9 483.8,383.8 C473.1,386.9 468.2,397.3 472.5,407.5Z M435.0,396.2 C438.3,407.1 449.3,412.6 460.0,408.8 C456.7,397.9 445.7,392.4 435.0,396.2Z M557.5,262.5 C572.2,255.2 575.5,239.6 565.0,227.0 C550.3,234.3 547.0,249.9 557.5,262.5Z M562.5,288.8 C578.3,286.0 587.3,271.7 583.0,256.2 C567.2,259.0 558.2,273.3 562.5,288.8Z M553.0,279.8 C558.3,265.8 550.8,253.8 536.0,252.5 C530.7,266.4 538.2,278.4 553.0,279.8Z M587.5,300.0 C600.8,303.2 611.2,294.9 611.2,281.2 C598.0,278.1 587.5,286.3 587.5,300.0Z M655.0,295.5 C664.2,281.1 659.3,264.2 643.8,257.0 C634.5,271.4 639.5,288.3 655.0,295.5Z M668.8,315.0 C682.2,306.3 685.0,289.6 675.0,277.0 C661.5,285.7 658.8,302.4 668.8,315.0Z M681.8,308.0 C692.1,317.8 707.0,316.5 715.5,305.0 C705.1,295.2 690.3,296.5 681.8,308.0Z M638.8,335.5 C653.8,333.7 662.3,320.8 658.0,306.2 C643.0,308.1 634.5,321.0 638.8,335.5Z M664.2,337.5 C677.2,344.0 691.7,338.5 697.0,325.0 C684.0,318.5 669.6,324.0 664.2,337.5Z M722.0,342.0 C738.8,342.0 750.9,328.8 749.5,312.0 C732.7,312.0 720.6,325.2 722.0,342.0Z M706.2,363.0 C716.8,354.5 717.4,340.5 707.5,331.2 C696.9,339.7 696.4,353.7 706.2,363.0Z M636.2,365.0 C651.5,364.6 661.4,352.5 658.8,337.5 C643.5,337.9 633.6,350.0 636.2,365.0Z M720.5,361.2 C733.8,367.1 749.0,361.3 755.0,348.0 C741.7,342.2 726.5,348.0 720.5,361.2Z M687.5,385.0 C699.9,374.5 699.9,358.0 687.5,347.5 C675.1,358.0 675.1,374.5 687.5,385.0Z M705.0,377.5 C716.4,384.3 731.3,381.0 738.8,370.0 C727.3,363.2 712.5,366.5 705.0,377.5Z M740.0,385.5 C749.0,390.8 761.7,389.0 768.8,381.2 C759.7,375.9 747.1,377.8 740.0,385.5Z M622.5,331.2 C633.1,328.8 636.4,320.0 630.0,311.2 C619.4,313.7 616.1,322.5 622.5,331.2Z M625.0,356.2 C635.8,354.3 639.6,345.5 633.8,336.2 C623.0,338.2 619.1,347.0 625.0,356.2Z M234.0,399.0 C247.2,407.4 266.1,405.2 277.0,394.0 C263.8,385.6 244.9,387.8 234.0,399.0Z M670.8,477.0 C681.6,486.4 696.9,484.8 705.5,473.2 C694.6,463.8 679.3,465.5 670.8,477.0Z M258.8,623.8 C242.1,622.5 229.5,634.6 230.0,651.2 C246.6,652.5 259.3,640.4 258.8,623.8Z M302.5,617.5 C286.4,612.3 270.4,621.1 266.2,637.5 C282.4,642.7 298.3,633.9 302.5,617.5Z M336.2,616.2 C319.6,615.0 307.0,627.1 307.5,643.8 C324.1,645.0 336.8,632.9 336.2,616.2Z M366.2,601.2 C348.4,605.8 340.2,622.6 347.5,639.5 C365.3,635.0 373.6,618.1 366.2,601.2Z M383.8,627.5 C367.0,629.8 356.5,644.7 360.0,661.2 C376.8,658.9 387.2,644.1 383.8,627.5Z M396.2,618.8 C386.0,628.4 386.8,642.7 398.0,651.2 C408.2,641.6 407.4,627.3 396.2,618.8Z M400.0,597.5 C385.7,595.5 376.0,605.2 378.0,619.5 C392.3,621.5 402.0,611.8 400.0,597.5Z M421.2,585.0 C404.2,594.8 400.4,614.6 412.5,630.0 C429.5,620.2 433.4,600.4 421.2,585.0Z M431.2,618.8 C417.6,627.6 415.4,644.1 426.2,656.2 C439.9,647.4 442.1,630.9 431.2,618.8Z M435.0,588.8 C430.1,604.3 438.9,618.6 455.0,621.2 C459.9,605.7 451.1,591.4 435.0,588.8Z M467.5,604.5 C456.3,615.6 457.4,631.8 470.0,641.2 C481.2,630.2 480.1,614.0 467.5,604.5Z M281.2,607.5 C272.7,595.3 257.8,594.2 247.5,605.0 C256.1,617.2 270.9,618.3 281.2,607.5Z M597.5,608.8 C582.4,617.5 579.1,635.1 590.0,648.8 C605.1,640.0 608.4,622.4 597.5,608.8Z M628.8,590.0 C610.9,593.4 602.1,609.3 608.8,626.2 C626.6,622.9 635.4,606.9 628.8,590.0Z M637.5,585.0 C626.4,601.9 632.4,621.2 651.2,628.8 C662.4,611.8 656.3,592.6 637.5,585.0Z M666.2,618.0 C655.2,627.1 654.6,642.1 665.0,652.0 C676.1,642.9 676.6,627.9 666.2,618.0Z M662.5,602.5 C663.3,615.4 673.7,623.1 686.2,620.0 C685.5,607.1 675.0,599.4 662.5,602.5Z M692.0,607.5 C687.2,625.2 697.9,639.3 716.2,639.5 C721.0,621.8 710.4,607.7 692.0,607.5Z M727.0,616.2 C725.6,633.4 737.9,645.5 755.0,643.8 C756.4,626.6 744.1,614.5 727.0,616.2Z M760.0,618.0 C764.6,634.2 780.5,642.2 796.2,636.2 C791.7,620.1 775.7,612.1 760.0,618.0Z M782.5,611.2 C792.1,621.4 807.5,621.7 817.5,612.0 C807.9,601.9 792.5,601.6 782.5,611.2Z M742.5,605.5 C748.0,615.6 760.1,618.9 770.0,613.0 C764.5,602.9 752.4,599.6 742.5,605.5Z M427.9,372.6 C417.8,381.0 418.1,393.8 428.5,401.8 C438.6,393.4 438.3,380.5 427.9,372.6Z M434.0,397.9 C438.7,409.5 451.0,413.8 462.0,407.6 C457.2,396.0 444.9,391.7 434.0,397.9Z M490.7,383.0 C475.5,384.1 467.3,396.3 471.9,410.8 C487.1,409.7 495.4,397.5 490.7,383.0Z M483.0,414.1 C489.9,426.2 503.9,428.8 514.7,419.9 C507.8,407.8 493.8,405.2 483.0,414.1Z M457.0,419.3 C441.9,420.5 433.9,432.8 438.9,447.1 C454.0,445.9 462.0,433.6 457.0,419.3Z M425.3,406.9 C413.5,410.1 408.3,421.2 413.6,432.2 C425.4,429.1 430.6,418.0 425.3,406.9Z M432.4,427.0 C417.9,426.0 409.9,436.1 414.3,450.0 C428.7,451.0 436.7,440.9 432.4,427.0Z M519.3,425.1 C505.5,423.3 496.3,432.7 498.5,446.5 C512.3,448.2 521.4,438.8 519.3,425.1Z M442.8,377.8 C442.6,387.8 449.4,392.0 458.3,387.5 C458.5,377.5 451.7,373.2 442.8,377.8Z M467.4,376.5 C466.1,386.0 471.8,390.0 480.4,385.6 C481.6,376.0 475.9,372.0 467.4,376.5Z M402.6,364.8 C397.4,373.8 401.4,379.5 411.7,377.8 C416.8,368.8 412.8,363.0 402.6,364.8Z M529.6,377.8 C526.8,387.1 532.0,392.2 541.3,389.4 C544.1,380.1 538.9,375.0 529.6,377.8Z M522.9,399.2 C525.0,413.5 537.6,421.2 551.4,416.7 C549.2,402.3 536.7,394.6 522.9,399.2Z M548.1,394.6 C547.9,408.9 558.7,418.1 572.8,415.4 C573.0,401.1 562.2,391.9 548.1,394.6Z M571.5,383.6 C567.6,397.6 575.9,409.5 590.3,410.8 C594.2,396.9 585.9,384.9 571.5,383.6Z M535.2,434.8 C548.7,442.3 563.0,436.6 567.6,421.9 C554.1,414.4 539.8,420.1 535.2,434.8Z M609.1,394.6 C604.5,408.7 612.5,420.6 627.2,421.9 C631.8,407.8 623.8,395.8 609.1,394.6Z M605.2,419.9 C600.7,433.9 608.7,445.6 623.3,446.5 C627.8,432.5 619.8,420.8 605.2,419.9Z M608.4,386.2 C618.5,396.3 633.3,395.5 642.1,384.3 C632.1,374.1 617.2,375.0 608.4,386.2Z M653.1,364.8 C643.0,373.5 645.3,382.7 658.3,385.6 C668.5,376.8 666.2,367.7 653.1,364.8Z M637.6,399.8 C629.8,409.3 632.9,419.6 644.7,423.1 C652.5,413.6 649.4,403.3 637.6,399.8Z M628.5,427.0 C624.0,439.9 631.1,450.0 644.7,450.0 C649.3,437.1 642.1,427.0 628.5,427.0Z M530.0,377.8 C530.5,387.4 536.7,390.2 544.3,384.3 C543.8,374.7 537.5,371.8 530.0,377.8Z M584.4,377.8 C583.7,387.3 589.4,390.7 597.4,385.6 C598.2,376.0 592.5,372.6 584.4,377.8Z M418.1,535.3 C412.2,549.3 419.3,562.1 434.4,564.4 C440.3,550.5 433.2,537.6 418.1,535.3Z M462.2,546.9 C476.6,546.7 483.5,536.2 477.8,523.0 C463.4,523.2 456.5,533.7 462.2,546.9Z M493.3,541.1 C487.4,554.1 493.7,566.6 507.6,569.6 C513.5,556.7 507.3,544.1 493.3,541.1Z M490.7,568.3 C485.0,581.0 491.3,592.4 505.0,594.3 C510.8,581.6 504.5,570.2 490.7,568.3Z M519.3,575.5 C507.2,578.0 503.2,588.0 510.2,598.1 C522.3,595.6 526.3,585.6 519.3,575.5Z M402.6,529.4 C393.9,539.3 396.2,551.8 407.8,558.0 C416.4,548.1 414.1,535.6 402.6,529.4Z M401.3,478.9 C393.5,489.3 395.7,503.3 406.5,510.6 C414.3,500.2 412.0,486.3 401.3,478.9Z M416.9,434.8 C410.9,446.6 416.6,456.3 429.8,456.9 C435.8,445.0 430.1,435.3 416.9,434.8Z M424.0,502.2 C439.7,506.1 452.0,496.4 451.9,480.2 C436.1,476.3 423.8,486.0 424.0,502.2Z M505.0,523.0 C508.5,535.6 521.0,542.4 533.5,538.5 C530.0,525.9 517.5,519.1 505.0,523.0Z M551.4,530.7 C549.4,544.7 558.8,554.4 572.8,552.8 C574.8,538.9 565.4,529.2 551.4,530.7Z M552.7,556.7 C550.8,570.8 560.5,581.1 574.7,580.0 C576.6,565.8 566.9,555.6 552.7,556.7Z M544.3,600.0 C557.7,598.1 564.3,586.7 559.2,574.2 C545.7,576.0 539.2,587.4 544.3,600.0Z M585.7,524.3 C581.0,538.4 589.0,549.8 603.9,550.2 C608.6,536.1 600.6,524.6 585.7,524.3Z M635.0,535.9 C630.8,548.6 638.0,560.0 651.2,561.9 C655.4,549.2 648.2,537.7 635.0,535.9Z M650.6,530.7 C646.1,542.4 652.4,551.5 664.8,551.5 C669.3,539.9 663.0,530.7 650.6,530.7Z M623.3,471.8 C623.3,482.6 631.6,489.2 642.1,486.7 C642.2,475.8 633.9,469.2 623.3,471.8Z M629.8,437.4 C626.4,449.2 633.2,457.2 645.4,455.6 C648.8,443.8 642.0,435.8 629.8,437.4Z M607.8,478.9 C607.5,493.0 618.0,501.5 631.8,498.3 C632.0,484.2 621.5,475.7 607.8,478.9Z M221.5,466.7 C215.9,485.4 226.7,502.5 245.9,505.6 C251.5,486.9 240.7,469.8 221.5,466.7Z M262.2,475.9 C264.3,494.0 279.9,505.5 297.8,501.9 C295.7,483.7 280.1,472.3 262.2,475.9Z M275.6,450.0 C276.7,469.1 292.6,483.3 311.7,482.4 C310.5,463.3 294.6,449.1 275.6,450.0Z M308.9,451.9 C314.4,468.6 332.3,479.2 349.6,475.9 C344.1,459.2 326.2,448.6 308.9,451.9Z M312.2,490.4 C324.1,500.7 340.7,498.8 350.0,486.1 C338.1,475.8 321.5,477.6 312.2,490.4Z M393.1,467.0 C379.7,469.5 372.8,481.6 377.4,494.4 C390.8,491.9 397.7,479.9 393.1,467.0Z M402.4,478.7 C393.5,486.8 394.7,497.8 405.2,503.7 C414.1,495.6 412.9,484.6 402.4,478.7Z M245.9,451.9 C250.4,459.5 259.4,461.1 266.3,455.6 C261.8,447.9 252.8,446.3 245.9,451.9Z M712.1,476.5 C731.0,481.8 749.3,471.1 753.9,452.0 C735.1,446.7 716.7,457.5 712.1,476.5Z M750.2,483.0 C770.6,482.5 788.4,466.2 790.6,445.9 C770.2,446.4 752.4,462.7 750.2,483.0Z M769.2,493.8 C788.3,498.1 807.5,486.7 813.0,467.9 C793.9,463.6 774.6,475.0 769.2,493.8Z M810.9,458.6 C819.0,471.3 834.4,473.7 846.0,463.9 C837.9,451.1 822.4,448.7 810.9,458.6Z M703.4,489.1 C713.9,501.1 730.3,500.9 740.6,488.7 C730.1,476.7 713.7,476.9 703.4,489.1Z M686.7,460.6 C695.5,468.5 708.1,467.2 715.2,457.7 C706.3,449.8 693.8,451.1 686.7,460.6Z M462.6,305.4 C463.4,294.1 455.4,287.5 444.5,290.5 C443.7,301.8 451.7,308.4 462.6,305.4Z M468.0,295.8 C472.2,306.7 482.9,310.0 492.4,303.2 C488.2,292.3 477.5,289.0 468.0,295.8Z M502.0,305.4 C512.7,305.1 518.6,296.8 515.4,286.6 C504.7,286.9 498.8,295.2 502.0,305.4Z M527.5,301.0 C539.2,305.0 550.4,298.7 553.0,286.6 C541.3,282.6 530.1,288.9 527.5,301.0Z M560.5,305.4 C569.3,308.9 575.9,304.1 575.5,294.7 C566.7,291.2 560.1,296.0 560.5,305.4Z M482.0,464.0 C484.9,446.7 473.7,435.9 456.5,439.5 C453.6,456.8 464.8,467.6 482.0,464.0Z M585.0,464.0 C601.9,466.0 610.6,455.0 604.7,439.0 C587.8,437.0 579.1,448.0 585.0,464.0Z M478.0,499.0 C466.8,492.2 455.6,496.8 452.5,509.5 C463.7,516.3 474.9,511.7 478.0,499.0Z M481.0,507.0 C468.0,503.3 457.2,511.0 456.5,524.5 C469.5,528.2 480.3,520.5 481.0,507.0Z M590.0,499.0 C593.3,511.4 604.2,515.4 614.7,508.0 C611.4,495.6 600.5,491.6 590.0,499.0Z M587.0,507.0 C587.3,520.5 597.8,528.7 611.0,525.5 C610.7,512.0 600.2,503.8 587.0,507.0Z"/>
</g>
<g fill="none" stroke="#fff" stroke-width="0.8" stroke-linecap="round"><path d="M490.5,634 L499.5,638.5"/><path d="M535.3,1036 Q535.5,1010 537.5,992" stroke-width="1.4"/></g><g fill="#fff"><path d="M497.6,719.6 L500.6,720 Q507.5,726 510.8,738.5 Q505,728.5 497.6,722.6Z M566,731.5 Q558.8,745 556.2,766 Q554.2,745 564,732Z"/></g>
<rect x="454.00" y="447.00" width="159.30" height="78.50" rx="39.25" fill="#b9cdd3"/>
<rect x="460.00" y="780.00" width="148.00" height="73.00" rx="36.50" fill="#b9cdd3"/>
<rect x="465.00" y="1050.00" width="141.25" height="70.00" rx="35.00" fill="#b9cdd3"/>
<g fill="none" stroke="#333333" stroke-linecap="round" stroke-linejoin="round">
<path d="M439,738.9 L533,738.9 M559,697.5 L607,698.3 M545,895.6 L617.5,897 M445.5,931.3 L533,931.3" stroke-width="1.1"/>
<path d="M533.9,739 L533.9,779.5 M534,853 L534,931" stroke-width="3.8" stroke-linecap="butt"/>
<path d="M532.9,738.9 C531.7,734.1 527.9,718.5 525.7,710.4 C523.5,702.2 521.3,695.1 519.6,690.0 C517.9,684.9 517.4,685.4 515.4,680.0 C513.4,674.6 510.0,664.2 507.6,657.4 C505.2,650.6 503.2,644.9 501.1,639.3 C499.0,633.7 495.9,626.5 494.8,624.0" stroke-width="3.5"/>
<path d="M522.4,701.0 C522.0,696.2 520.3,681.2 520.2,672.0 C520.1,662.8 520.8,654.3 522.0,646.0 C523.2,637.7 525.7,630.6 527.6,622.4 C529.5,614.2 532.6,601.2 533.6,597.0" stroke-width="3.5"/>
<path d="M532.9,738.9 C535.4,732.0 542.4,714.7 548.1,697.7 C553.8,680.7 563.9,647.1 567.0,637.0" stroke-width="3.5"/>
<path d="M492.3,630 L494,622.3 L504.6,625 M527.2,600.5 L533.8,594.6 L538.2,602.6 M558,640.2 L567.6,635 L569.6,645.2" stroke-width="3.3" stroke-linejoin="miter" stroke-linecap="butt"/>
<path d="M532.9,941 L530.7,952 C528,962 524,968 519,970 L488,979.6 C484,981 481,983.5 479.6,985 L457.3,1004" stroke-width="3.7"/>
<path d="M535,940 L535,962.6 C535,972 534.5,977 532.9,981.8 L518.3,1012.8" stroke-width="3.7"/>
<path d="M535.5,942 C537,955 539,963 541.4,969 C544,976 547,981 552,986 L570,1007.5" stroke-width="3.7"/>
<path d="M536,941 C540,950 543,955 547.8,960.5 C553,966 560,971 567,975.4 C578,981.5 590,987 604.3,990.8" stroke-width="3.7"/>
</g>
<g fill="#333333"><circle cx="533" cy="739" r="10.9"/><circle cx="548.1" cy="697.6" r="10.9"/><circle cx="534" cy="895.7" r="10.9"/><circle cx="533" cy="931.2" r="10.9"/></g>
<text x="484.40" y="492.50" textLength="99.95" lengthAdjust="spacing" fill="#2f2f2f" xml:space="preserve">Nos projets</text>
<text x="480.15" y="821.75" textLength="109.20" lengthAdjust="spacing" fill="#2f2f2f" xml:space="preserve">Nos activités</text>
<text x="485.15" y="1090.75" textLength="101.20" lengthAdjust="spacing" fill="#2f2f2f" xml:space="preserve">Nos valeurs</text>
<rect x="438.00" y="301.00" width="187.00" height="78.50" fill="#f4f3f0" stroke="#b9cdd3" stroke-width="1"/>
<text x="492.40" y="333.75" textLength="78.95" lengthAdjust="spacing" fill="#2f2f2f" xml:space="preserve"><tspan font-weight="700">Cabanes</tspan></text>
<text x="471.90" y="359.75" textLength="119.95" lengthAdjust="spacing" fill="#2f2f2f" xml:space="preserve"><tspan font-weight="700">médicalisées</tspan></text>
<rect x="194.75" y="396.00" width="218.50" height="60.00" fill="#f4f3f0" stroke="#b9cdd3" stroke-width="1"/>
<text x="232.65" y="431.75" textLength="142.45" lengthAdjust="spacing" fill="#2f2f2f" xml:space="preserve"><tspan font-weight="700">Bureau d’étude</tspan></text>
<rect x="645.50" y="386.25" width="240.75" height="70.25" fill="#f4f3f0" stroke="#b9cdd3" stroke-width="1"/>
<text x="674.90" y="428.00" textLength="182.45" lengthAdjust="spacing" fill="#2f2f2f" xml:space="preserve"><tspan font-weight="700">Marque de mobilier</tspan></text>
<rect x="104.90" y="494.90" width="294.10" height="106.00" fill="#f4f3f0" stroke="#b9cdd3" stroke-width="1"/>
<text x="112.90" y="528.00" textLength="278.70" lengthAdjust="spacing" fill="#2f2f2f" xml:space="preserve">Construction avec <tspan font-weight="700">le plus faible</tspan></text>
<text x="136.80" y="554.00" textLength="230.90" lengthAdjust="spacing" fill="#2f2f2f" xml:space="preserve"><tspan font-weight="700">impact environnemental</tspan></text>
<text x="216.50" y="579.60" textLength="71.50" lengthAdjust="spacing" fill="#2f2f2f" xml:space="preserve">possible</text>
<rect x="665.00" y="494.75" width="288.50" height="115.75" fill="#f4f3f0" stroke="#b9cdd3" stroke-width="1"/>
<text x="690.65" y="532.50" textLength="236.20" lengthAdjust="spacing" fill="#2f2f2f" xml:space="preserve">Un réseau de compétences</text>
<text x="714.65" y="558.75" textLength="188.95" lengthAdjust="spacing" fill="#2f2f2f" xml:space="preserve"><tspan font-weight="700">indépendantes mais</tspan></text>
<text x="755.90" y="584.75" textLength="105.95" lengthAdjust="spacing" fill="#2f2f2f" xml:space="preserve"><tspan font-weight="700">connectées</tspan></text>
<rect x="90.60" y="971.60" width="169.80" height="75.70" fill="#f4f3f0" stroke="#b9cdd3" stroke-width="1"/>
<text x="120.65" y="1001.90" textLength="110.55" lengthAdjust="spacing" fill="#2f2f2f" xml:space="preserve"><tspan font-weight="700">Formation /</tspan></text>
<text x="114.80" y="1027.90" textLength="121.00" lengthAdjust="spacing" fill="#2f2f2f" xml:space="preserve"><tspan font-weight="700">transmission</tspan></text>
<rect x="766.75" y="969.40" width="222.95" height="75.70" fill="#f4f3f0" stroke="#b9cdd3" stroke-width="1"/>
<text x="776.00" y="1000.60" textLength="203.80" lengthAdjust="spacing" fill="#2f2f2f" xml:space="preserve">Construire avec plus de</text>
<text x="839.30" y="1027.00" textLength="77.30" lengthAdjust="spacing" fill="#2f2f2f" xml:space="preserve"><tspan font-weight="700">sobriété</tspan></text>
<rect x="125.10" y="1070.90" width="273.10" height="104.70" fill="#f4f3f0" stroke="#b9cdd3" stroke-width="1"/>
<text x="152.10" y="1102.60" textLength="218.80" lengthAdjust="spacing" fill="#2f2f2f" xml:space="preserve">Protéger la <tspan font-weight="700">diversité des</tspan></text>
<text x="173.20" y="1128.75" textLength="176.30" lengthAdjust="spacing" fill="#2f2f2f" xml:space="preserve"><tspan font-weight="700">forêts (sylviculture</tspan></text>
<text x="211.40" y="1154.70" textLength="99.20" lengthAdjust="spacing" fill="#2f2f2f" xml:space="preserve"><tspan font-weight="700">raisonnée)</tspan></text>
<rect x="682.10" y="1070.90" width="253.20" height="104.70" fill="#f4f3f0" stroke="#b9cdd3" stroke-width="1"/>
<text x="724.40" y="1102.40" textLength="169.20" lengthAdjust="spacing" fill="#2f2f2f" xml:space="preserve">Favoriser <tspan font-weight="700">l’ancrage</tspan></text>
<text x="698.40" y="1128.75" textLength="220.60" lengthAdjust="spacing" fill="#2f2f2f" xml:space="preserve"><tspan font-weight="700">territorial</tspan> et <tspan font-weight="700">l’économie</tspan></text>
<text x="764.70" y="1154.70" textLength="88.30" lengthAdjust="spacing" fill="#2f2f2f" xml:space="preserve"><tspan font-weight="700">circulaire</tspan></text>
<rect x="420.75" y="1144.50" width="224.75" height="76.00" fill="#f4f3f0" stroke="#b9cdd3" stroke-width="1"/>
<text x="434.40" y="1175.75" textLength="197.45" lengthAdjust="spacing" fill="#2f2f2f" xml:space="preserve">Proposer des <tspan font-weight="700">plans de</tspan></text>
<text x="496.15" y="1201.75" textLength="73.95" lengthAdjust="spacing" fill="#2f2f2f" xml:space="preserve"><tspan font-weight="700">carrière</tspan></text>
<rect x="300.25" y="716.25" width="138.75" height="45.75" fill="#6b8793"/>
<text x="321.40" y="745.00" textLength="96.70" lengthAdjust="spacing" fill="#f4f3f0" xml:space="preserve">Menuiserie</text>
<rect x="606.75" y="675.75" width="178.25" height="45.25" fill="#6b8793"/>
<text x="629.40" y="703.75" textLength="133.20" lengthAdjust="spacing" fill="#f4f3f0" xml:space="preserve">Bureau d’étude</text>
<rect x="617.25" y="873.75" width="157.00" height="45.75" fill="#6b8793"/>
<text x="638.90" y="902.50" textLength="113.70" lengthAdjust="spacing" fill="#f4f3f0" xml:space="preserve">Charpenterie</text>
<rect x="352.00" y="909.00" width="93.75" height="45.25" fill="#6b8793"/>
<text x="370.15" y="937.00" textLength="57.20" lengthAdjust="spacing" fill="#f4f3f0" xml:space="preserve">Scierie</text>
</svg></body></html>
